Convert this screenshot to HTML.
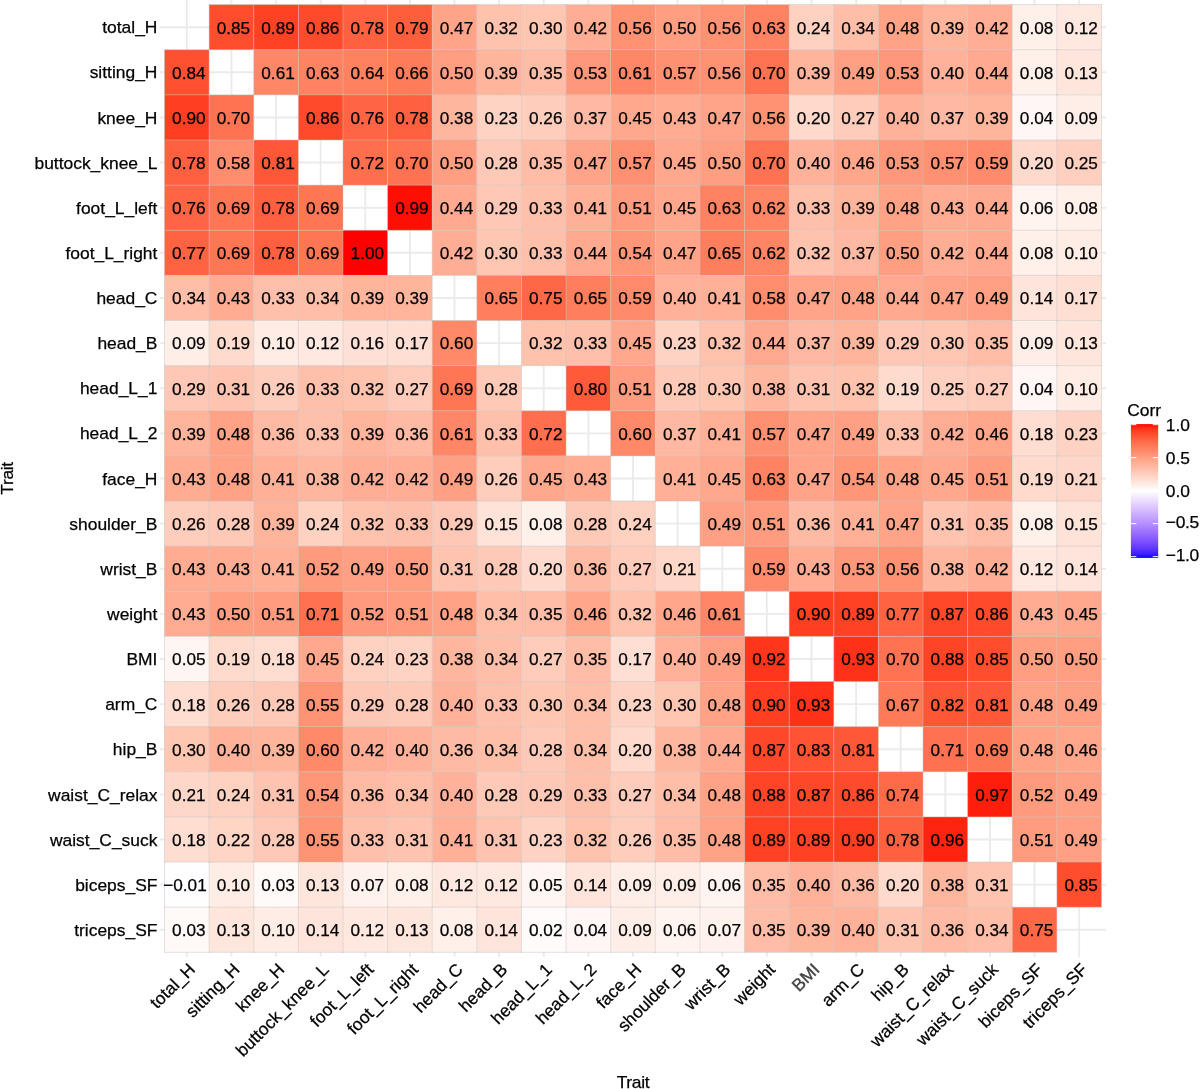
<!DOCTYPE html>
<html><head><meta charset="utf-8"><title>Trait correlation heatmap</title>
<style>
html,body{margin:0;padding:0;background:#fff;}
body{width:1200px;height:1089px;overflow:hidden;position:relative;font-family:"Liberation Sans",sans-serif;color:#000;}
svg{position:absolute;left:0;top:0;will-change:transform;}
text{font-family:"Liberation Sans",sans-serif;stroke:#000;stroke-width:0.25px;}
.c{font-size:17.20px;text-anchor:middle;fill:#000;}
.y{font-size:17.42px;text-anchor:end;fill:#000;}
.x{font-size:17.42px;text-anchor:end;fill:#000;}
.t{font-size:17.42px;fill:#000;}
</style></head><body>
<svg width="1200" height="1089" viewBox="0 0 1200 1089">
<g stroke="#EBEBEB" stroke-width="1.90" fill="none">
<path d="M186.81 0.11V956.81"/><path d="M160.04 27.18H1105.96"/>
<path d="M231.43 0.11V956.81"/><path d="M160.04 72.31H1105.96"/>
<path d="M276.05 0.11V956.81"/><path d="M160.04 117.44H1105.96"/>
<path d="M320.67 0.11V956.81"/><path d="M160.04 162.57H1105.96"/>
<path d="M365.29 0.11V956.81"/><path d="M160.04 207.69H1105.96"/>
<path d="M409.90 0.11V956.81"/><path d="M160.04 252.82H1105.96"/>
<path d="M454.52 0.11V956.81"/><path d="M160.04 297.95H1105.96"/>
<path d="M499.14 0.11V956.81"/><path d="M160.04 343.08H1105.96"/>
<path d="M543.76 0.11V956.81"/><path d="M160.04 388.20H1105.96"/>
<path d="M588.38 0.11V956.81"/><path d="M160.04 433.33H1105.96"/>
<path d="M633.00 0.11V956.81"/><path d="M160.04 478.46H1105.96"/>
<path d="M677.62 0.11V956.81"/><path d="M160.04 523.59H1105.96"/>
<path d="M722.24 0.11V956.81"/><path d="M160.04 568.72H1105.96"/>
<path d="M766.86 0.11V956.81"/><path d="M160.04 613.84H1105.96"/>
<path d="M811.48 0.11V956.81"/><path d="M160.04 658.97H1105.96"/>
<path d="M856.10 0.11V956.81"/><path d="M160.04 704.10H1105.96"/>
<path d="M900.71 0.11V956.81"/><path d="M160.04 749.23H1105.96"/>
<path d="M945.33 0.11V956.81"/><path d="M160.04 794.35H1105.96"/>
<path d="M989.95 0.11V956.81"/><path d="M160.04 839.48H1105.96"/>
<path d="M1034.57 0.11V956.81"/><path d="M160.04 884.61H1105.96"/>
<path d="M1079.19 0.11V956.81"/><path d="M160.04 929.74H1105.96"/>
</g>
<g shape-rendering="auto">
<rect x="209.12" y="4.62" width="44.62" height="45.13" fill="#FF4D2E"/>
<rect x="253.74" y="4.62" width="44.62" height="45.13" fill="#FF4124"/>
<rect x="298.36" y="4.62" width="44.62" height="45.13" fill="#FF4A2C"/>
<rect x="342.98" y="4.62" width="44.62" height="45.13" fill="#FF603F"/>
<rect x="387.60" y="4.62" width="44.62" height="45.13" fill="#FF5E3D"/>
<rect x="432.21" y="4.62" width="44.62" height="45.13" fill="#FFA488"/>
<rect x="476.83" y="4.62" width="44.62" height="45.13" fill="#FFC2AD"/>
<rect x="521.45" y="4.62" width="44.62" height="45.13" fill="#FFC6B2"/>
<rect x="566.07" y="4.62" width="44.62" height="45.13" fill="#FFAE95"/>
<rect x="610.69" y="4.62" width="44.62" height="45.13" fill="#FF9273"/>
<rect x="655.31" y="4.62" width="44.62" height="45.13" fill="#FF9E81"/>
<rect x="699.93" y="4.62" width="44.62" height="45.13" fill="#FF9273"/>
<rect x="744.55" y="4.62" width="44.62" height="45.13" fill="#FF8362"/>
<rect x="789.17" y="4.62" width="44.62" height="45.13" fill="#FFD1C1"/>
<rect x="833.79" y="4.62" width="44.62" height="45.13" fill="#FFBEA8"/>
<rect x="878.40" y="4.62" width="44.62" height="45.13" fill="#FFA286"/>
<rect x="923.02" y="4.62" width="44.62" height="45.13" fill="#FFB49C"/>
<rect x="967.64" y="4.62" width="44.62" height="45.13" fill="#FFAE95"/>
<rect x="1012.26" y="4.62" width="44.62" height="45.13" fill="#FFF0EA"/>
<rect x="1056.88" y="4.62" width="44.62" height="45.13" fill="#FFE8E0"/>
<rect x="164.50" y="49.75" width="44.62" height="45.13" fill="#FF5031"/>
<rect x="253.74" y="49.75" width="44.62" height="45.13" fill="#FF8767"/>
<rect x="298.36" y="49.75" width="44.62" height="45.13" fill="#FF8362"/>
<rect x="342.98" y="49.75" width="44.62" height="45.13" fill="#FF8160"/>
<rect x="387.60" y="49.75" width="44.62" height="45.13" fill="#FF7C5B"/>
<rect x="432.21" y="49.75" width="44.62" height="45.13" fill="#FF9E81"/>
<rect x="476.83" y="49.75" width="44.62" height="45.13" fill="#FFB49C"/>
<rect x="521.45" y="49.75" width="44.62" height="45.13" fill="#FFBCA6"/>
<rect x="566.07" y="49.75" width="44.62" height="45.13" fill="#FF987A"/>
<rect x="610.69" y="49.75" width="44.62" height="45.13" fill="#FF8767"/>
<rect x="655.31" y="49.75" width="44.62" height="45.13" fill="#FF9071"/>
<rect x="699.93" y="49.75" width="44.62" height="45.13" fill="#FF9273"/>
<rect x="744.55" y="49.75" width="44.62" height="45.13" fill="#FF7352"/>
<rect x="789.17" y="49.75" width="44.62" height="45.13" fill="#FFB49C"/>
<rect x="833.79" y="49.75" width="44.62" height="45.13" fill="#FFA084"/>
<rect x="878.40" y="49.75" width="44.62" height="45.13" fill="#FF987A"/>
<rect x="923.02" y="49.75" width="44.62" height="45.13" fill="#FFB299"/>
<rect x="967.64" y="49.75" width="44.62" height="45.13" fill="#FFAA90"/>
<rect x="1012.26" y="49.75" width="44.62" height="45.13" fill="#FFF0EA"/>
<rect x="1056.88" y="49.75" width="44.62" height="45.13" fill="#FFE6DD"/>
<rect x="164.50" y="94.88" width="44.62" height="45.13" fill="#FF3E22"/>
<rect x="209.12" y="94.88" width="44.62" height="45.13" fill="#FF7352"/>
<rect x="298.36" y="94.88" width="44.62" height="45.13" fill="#FF4A2C"/>
<rect x="342.98" y="94.88" width="44.62" height="45.13" fill="#FF6544"/>
<rect x="387.60" y="94.88" width="44.62" height="45.13" fill="#FF603F"/>
<rect x="432.21" y="94.88" width="44.62" height="45.13" fill="#FFB69E"/>
<rect x="476.83" y="94.88" width="44.62" height="45.13" fill="#FFD3C4"/>
<rect x="521.45" y="94.88" width="44.62" height="45.13" fill="#FFCDBC"/>
<rect x="566.07" y="94.88" width="44.62" height="45.13" fill="#FFB8A1"/>
<rect x="610.69" y="94.88" width="44.62" height="45.13" fill="#FFA88D"/>
<rect x="655.31" y="94.88" width="44.62" height="45.13" fill="#FFAC92"/>
<rect x="699.93" y="94.88" width="44.62" height="45.13" fill="#FFA488"/>
<rect x="744.55" y="94.88" width="44.62" height="45.13" fill="#FF9273"/>
<rect x="789.17" y="94.88" width="44.62" height="45.13" fill="#FFD9CB"/>
<rect x="833.79" y="94.88" width="44.62" height="45.13" fill="#FFCBBA"/>
<rect x="878.40" y="94.88" width="44.62" height="45.13" fill="#FFB299"/>
<rect x="923.02" y="94.88" width="44.62" height="45.13" fill="#FFB8A1"/>
<rect x="967.64" y="94.88" width="44.62" height="45.13" fill="#FFB49C"/>
<rect x="1012.26" y="94.88" width="44.62" height="45.13" fill="#FFF7F5"/>
<rect x="1056.88" y="94.88" width="44.62" height="45.13" fill="#FFEEE8"/>
<rect x="164.50" y="140.00" width="44.62" height="45.13" fill="#FF603F"/>
<rect x="209.12" y="140.00" width="44.62" height="45.13" fill="#FF8D6E"/>
<rect x="253.74" y="140.00" width="44.62" height="45.13" fill="#FF5838"/>
<rect x="342.98" y="140.00" width="44.62" height="45.13" fill="#FF6F4D"/>
<rect x="387.60" y="140.00" width="44.62" height="45.13" fill="#FF7352"/>
<rect x="432.21" y="140.00" width="44.62" height="45.13" fill="#FF9E81"/>
<rect x="476.83" y="140.00" width="44.62" height="45.13" fill="#FFC9B7"/>
<rect x="521.45" y="140.00" width="44.62" height="45.13" fill="#FFBCA6"/>
<rect x="566.07" y="140.00" width="44.62" height="45.13" fill="#FFA488"/>
<rect x="610.69" y="140.00" width="44.62" height="45.13" fill="#FF9071"/>
<rect x="655.31" y="140.00" width="44.62" height="45.13" fill="#FFA88D"/>
<rect x="699.93" y="140.00" width="44.62" height="45.13" fill="#FF9E81"/>
<rect x="744.55" y="140.00" width="44.62" height="45.13" fill="#FF7352"/>
<rect x="789.17" y="140.00" width="44.62" height="45.13" fill="#FFB299"/>
<rect x="833.79" y="140.00" width="44.62" height="45.13" fill="#FFA68B"/>
<rect x="878.40" y="140.00" width="44.62" height="45.13" fill="#FF987A"/>
<rect x="923.02" y="140.00" width="44.62" height="45.13" fill="#FF9071"/>
<rect x="967.64" y="140.00" width="44.62" height="45.13" fill="#FF8B6C"/>
<rect x="1012.26" y="140.00" width="44.62" height="45.13" fill="#FFD9CB"/>
<rect x="1056.88" y="140.00" width="44.62" height="45.13" fill="#FFCFBF"/>
<rect x="164.50" y="185.13" width="44.62" height="45.13" fill="#FF6544"/>
<rect x="209.12" y="185.13" width="44.62" height="45.13" fill="#FF7654"/>
<rect x="253.74" y="185.13" width="44.62" height="45.13" fill="#FF603F"/>
<rect x="298.36" y="185.13" width="44.62" height="45.13" fill="#FF7654"/>
<rect x="387.60" y="185.13" width="44.62" height="45.13" fill="#FF0E04"/>
<rect x="432.21" y="185.13" width="44.62" height="45.13" fill="#FFAA90"/>
<rect x="476.83" y="185.13" width="44.62" height="45.13" fill="#FFC7B5"/>
<rect x="521.45" y="185.13" width="44.62" height="45.13" fill="#FFC0AB"/>
<rect x="566.07" y="185.13" width="44.62" height="45.13" fill="#FFB097"/>
<rect x="610.69" y="185.13" width="44.62" height="45.13" fill="#FF9C7F"/>
<rect x="655.31" y="185.13" width="44.62" height="45.13" fill="#FFA88D"/>
<rect x="699.93" y="185.13" width="44.62" height="45.13" fill="#FF8362"/>
<rect x="744.55" y="185.13" width="44.62" height="45.13" fill="#FF8565"/>
<rect x="789.17" y="185.13" width="44.62" height="45.13" fill="#FFC0AB"/>
<rect x="833.79" y="185.13" width="44.62" height="45.13" fill="#FFB49C"/>
<rect x="878.40" y="185.13" width="44.62" height="45.13" fill="#FFA286"/>
<rect x="923.02" y="185.13" width="44.62" height="45.13" fill="#FFAC92"/>
<rect x="967.64" y="185.13" width="44.62" height="45.13" fill="#FFAA90"/>
<rect x="1012.26" y="185.13" width="44.62" height="45.13" fill="#FFF4EF"/>
<rect x="1056.88" y="185.13" width="44.62" height="45.13" fill="#FFF0EA"/>
<rect x="164.50" y="230.26" width="44.62" height="45.13" fill="#FF6341"/>
<rect x="209.12" y="230.26" width="44.62" height="45.13" fill="#FF7654"/>
<rect x="253.74" y="230.26" width="44.62" height="45.13" fill="#FF603F"/>
<rect x="298.36" y="230.26" width="44.62" height="45.13" fill="#FF7654"/>
<rect x="342.98" y="230.26" width="44.62" height="45.13" fill="#FF0000"/>
<rect x="432.21" y="230.26" width="44.62" height="45.13" fill="#FFAE95"/>
<rect x="476.83" y="230.26" width="44.62" height="45.13" fill="#FFC6B2"/>
<rect x="521.45" y="230.26" width="44.62" height="45.13" fill="#FFC0AB"/>
<rect x="566.07" y="230.26" width="44.62" height="45.13" fill="#FFAA90"/>
<rect x="610.69" y="230.26" width="44.62" height="45.13" fill="#FF9678"/>
<rect x="655.31" y="230.26" width="44.62" height="45.13" fill="#FFA488"/>
<rect x="699.93" y="230.26" width="44.62" height="45.13" fill="#FF7E5E"/>
<rect x="744.55" y="230.26" width="44.62" height="45.13" fill="#FF8565"/>
<rect x="789.17" y="230.26" width="44.62" height="45.13" fill="#FFC2AD"/>
<rect x="833.79" y="230.26" width="44.62" height="45.13" fill="#FFB8A1"/>
<rect x="878.40" y="230.26" width="44.62" height="45.13" fill="#FF9E81"/>
<rect x="923.02" y="230.26" width="44.62" height="45.13" fill="#FFAE95"/>
<rect x="967.64" y="230.26" width="44.62" height="45.13" fill="#FFAA90"/>
<rect x="1012.26" y="230.26" width="44.62" height="45.13" fill="#FFF0EA"/>
<rect x="1056.88" y="230.26" width="44.62" height="45.13" fill="#FFECE5"/>
<rect x="164.50" y="275.39" width="44.62" height="45.13" fill="#FFBEA8"/>
<rect x="209.12" y="275.39" width="44.62" height="45.13" fill="#FFAC92"/>
<rect x="253.74" y="275.39" width="44.62" height="45.13" fill="#FFC0AB"/>
<rect x="298.36" y="275.39" width="44.62" height="45.13" fill="#FFBEA8"/>
<rect x="342.98" y="275.39" width="44.62" height="45.13" fill="#FFB49C"/>
<rect x="387.60" y="275.39" width="44.62" height="45.13" fill="#FFB49C"/>
<rect x="476.83" y="275.39" width="44.62" height="45.13" fill="#FF7E5E"/>
<rect x="521.45" y="275.39" width="44.62" height="45.13" fill="#FF6846"/>
<rect x="566.07" y="275.39" width="44.62" height="45.13" fill="#FF7E5E"/>
<rect x="610.69" y="275.39" width="44.62" height="45.13" fill="#FF8B6C"/>
<rect x="655.31" y="275.39" width="44.62" height="45.13" fill="#FFB299"/>
<rect x="699.93" y="275.39" width="44.62" height="45.13" fill="#FFB097"/>
<rect x="744.55" y="275.39" width="44.62" height="45.13" fill="#FF8D6E"/>
<rect x="789.17" y="275.39" width="44.62" height="45.13" fill="#FFA488"/>
<rect x="833.79" y="275.39" width="44.62" height="45.13" fill="#FFA286"/>
<rect x="878.40" y="275.39" width="44.62" height="45.13" fill="#FFAA90"/>
<rect x="923.02" y="275.39" width="44.62" height="45.13" fill="#FFA488"/>
<rect x="967.64" y="275.39" width="44.62" height="45.13" fill="#FFA084"/>
<rect x="1012.26" y="275.39" width="44.62" height="45.13" fill="#FFE4DB"/>
<rect x="1056.88" y="275.39" width="44.62" height="45.13" fill="#FFDFD3"/>
<rect x="164.50" y="320.51" width="44.62" height="45.13" fill="#FFEEE8"/>
<rect x="209.12" y="320.51" width="44.62" height="45.13" fill="#FFDBCE"/>
<rect x="253.74" y="320.51" width="44.62" height="45.13" fill="#FFECE5"/>
<rect x="298.36" y="320.51" width="44.62" height="45.13" fill="#FFE8E0"/>
<rect x="342.98" y="320.51" width="44.62" height="45.13" fill="#FFE0D6"/>
<rect x="387.60" y="320.51" width="44.62" height="45.13" fill="#FFDFD3"/>
<rect x="432.21" y="320.51" width="44.62" height="45.13" fill="#FF8969"/>
<rect x="521.45" y="320.51" width="44.62" height="45.13" fill="#FFC2AD"/>
<rect x="566.07" y="320.51" width="44.62" height="45.13" fill="#FFC0AB"/>
<rect x="610.69" y="320.51" width="44.62" height="45.13" fill="#FFA88D"/>
<rect x="655.31" y="320.51" width="44.62" height="45.13" fill="#FFD3C4"/>
<rect x="699.93" y="320.51" width="44.62" height="45.13" fill="#FFC2AD"/>
<rect x="744.55" y="320.51" width="44.62" height="45.13" fill="#FFAA90"/>
<rect x="789.17" y="320.51" width="44.62" height="45.13" fill="#FFB8A1"/>
<rect x="833.79" y="320.51" width="44.62" height="45.13" fill="#FFB49C"/>
<rect x="878.40" y="320.51" width="44.62" height="45.13" fill="#FFC7B5"/>
<rect x="923.02" y="320.51" width="44.62" height="45.13" fill="#FFC6B2"/>
<rect x="967.64" y="320.51" width="44.62" height="45.13" fill="#FFBCA6"/>
<rect x="1012.26" y="320.51" width="44.62" height="45.13" fill="#FFEEE8"/>
<rect x="1056.88" y="320.51" width="44.62" height="45.13" fill="#FFE6DD"/>
<rect x="164.50" y="365.64" width="44.62" height="45.13" fill="#FFC7B5"/>
<rect x="209.12" y="365.64" width="44.62" height="45.13" fill="#FFC4B0"/>
<rect x="253.74" y="365.64" width="44.62" height="45.13" fill="#FFCDBC"/>
<rect x="298.36" y="365.64" width="44.62" height="45.13" fill="#FFC0AB"/>
<rect x="342.98" y="365.64" width="44.62" height="45.13" fill="#FFC2AD"/>
<rect x="387.60" y="365.64" width="44.62" height="45.13" fill="#FFCBBA"/>
<rect x="432.21" y="365.64" width="44.62" height="45.13" fill="#FF7654"/>
<rect x="476.83" y="365.64" width="44.62" height="45.13" fill="#FFC9B7"/>
<rect x="566.07" y="365.64" width="44.62" height="45.13" fill="#FF5B3A"/>
<rect x="610.69" y="365.64" width="44.62" height="45.13" fill="#FF9C7F"/>
<rect x="655.31" y="365.64" width="44.62" height="45.13" fill="#FFC9B7"/>
<rect x="699.93" y="365.64" width="44.62" height="45.13" fill="#FFC6B2"/>
<rect x="744.55" y="365.64" width="44.62" height="45.13" fill="#FFB69E"/>
<rect x="789.17" y="365.64" width="44.62" height="45.13" fill="#FFC4B0"/>
<rect x="833.79" y="365.64" width="44.62" height="45.13" fill="#FFC2AD"/>
<rect x="878.40" y="365.64" width="44.62" height="45.13" fill="#FFDBCE"/>
<rect x="923.02" y="365.64" width="44.62" height="45.13" fill="#FFCFBF"/>
<rect x="967.64" y="365.64" width="44.62" height="45.13" fill="#FFCBBA"/>
<rect x="1012.26" y="365.64" width="44.62" height="45.13" fill="#FFF7F5"/>
<rect x="1056.88" y="365.64" width="44.62" height="45.13" fill="#FFECE5"/>
<rect x="164.50" y="410.77" width="44.62" height="45.13" fill="#FFB49C"/>
<rect x="209.12" y="410.77" width="44.62" height="45.13" fill="#FFA286"/>
<rect x="253.74" y="410.77" width="44.62" height="45.13" fill="#FFBAA3"/>
<rect x="298.36" y="410.77" width="44.62" height="45.13" fill="#FFC0AB"/>
<rect x="342.98" y="410.77" width="44.62" height="45.13" fill="#FFB49C"/>
<rect x="387.60" y="410.77" width="44.62" height="45.13" fill="#FFBAA3"/>
<rect x="432.21" y="410.77" width="44.62" height="45.13" fill="#FF8767"/>
<rect x="476.83" y="410.77" width="44.62" height="45.13" fill="#FFC0AB"/>
<rect x="521.45" y="410.77" width="44.62" height="45.13" fill="#FF6F4D"/>
<rect x="610.69" y="410.77" width="44.62" height="45.13" fill="#FF8969"/>
<rect x="655.31" y="410.77" width="44.62" height="45.13" fill="#FFB8A1"/>
<rect x="699.93" y="410.77" width="44.62" height="45.13" fill="#FFB097"/>
<rect x="744.55" y="410.77" width="44.62" height="45.13" fill="#FF9071"/>
<rect x="789.17" y="410.77" width="44.62" height="45.13" fill="#FFA488"/>
<rect x="833.79" y="410.77" width="44.62" height="45.13" fill="#FFA084"/>
<rect x="878.40" y="410.77" width="44.62" height="45.13" fill="#FFC0AB"/>
<rect x="923.02" y="410.77" width="44.62" height="45.13" fill="#FFAE95"/>
<rect x="967.64" y="410.77" width="44.62" height="45.13" fill="#FFA68B"/>
<rect x="1012.26" y="410.77" width="44.62" height="45.13" fill="#FFDDD0"/>
<rect x="1056.88" y="410.77" width="44.62" height="45.13" fill="#FFD3C4"/>
<rect x="164.50" y="455.90" width="44.62" height="45.13" fill="#FFAC92"/>
<rect x="209.12" y="455.90" width="44.62" height="45.13" fill="#FFA286"/>
<rect x="253.74" y="455.90" width="44.62" height="45.13" fill="#FFB097"/>
<rect x="298.36" y="455.90" width="44.62" height="45.13" fill="#FFB69E"/>
<rect x="342.98" y="455.90" width="44.62" height="45.13" fill="#FFAE95"/>
<rect x="387.60" y="455.90" width="44.62" height="45.13" fill="#FFAE95"/>
<rect x="432.21" y="455.90" width="44.62" height="45.13" fill="#FFA084"/>
<rect x="476.83" y="455.90" width="44.62" height="45.13" fill="#FFCDBC"/>
<rect x="521.45" y="455.90" width="44.62" height="45.13" fill="#FFA88D"/>
<rect x="566.07" y="455.90" width="44.62" height="45.13" fill="#FFAC92"/>
<rect x="655.31" y="455.90" width="44.62" height="45.13" fill="#FFB097"/>
<rect x="699.93" y="455.90" width="44.62" height="45.13" fill="#FFA88D"/>
<rect x="744.55" y="455.90" width="44.62" height="45.13" fill="#FF8362"/>
<rect x="789.17" y="455.90" width="44.62" height="45.13" fill="#FFA488"/>
<rect x="833.79" y="455.90" width="44.62" height="45.13" fill="#FF9678"/>
<rect x="878.40" y="455.90" width="44.62" height="45.13" fill="#FFA286"/>
<rect x="923.02" y="455.90" width="44.62" height="45.13" fill="#FFA88D"/>
<rect x="967.64" y="455.90" width="44.62" height="45.13" fill="#FF9C7F"/>
<rect x="1012.26" y="455.90" width="44.62" height="45.13" fill="#FFDBCE"/>
<rect x="1056.88" y="455.90" width="44.62" height="45.13" fill="#FFD7C9"/>
<rect x="164.50" y="501.02" width="44.62" height="45.13" fill="#FFCDBC"/>
<rect x="209.12" y="501.02" width="44.62" height="45.13" fill="#FFC9B7"/>
<rect x="253.74" y="501.02" width="44.62" height="45.13" fill="#FFB49C"/>
<rect x="298.36" y="501.02" width="44.62" height="45.13" fill="#FFD1C1"/>
<rect x="342.98" y="501.02" width="44.62" height="45.13" fill="#FFC2AD"/>
<rect x="387.60" y="501.02" width="44.62" height="45.13" fill="#FFC0AB"/>
<rect x="432.21" y="501.02" width="44.62" height="45.13" fill="#FFC7B5"/>
<rect x="476.83" y="501.02" width="44.62" height="45.13" fill="#FFE2D8"/>
<rect x="521.45" y="501.02" width="44.62" height="45.13" fill="#FFF0EA"/>
<rect x="566.07" y="501.02" width="44.62" height="45.13" fill="#FFC9B7"/>
<rect x="610.69" y="501.02" width="44.62" height="45.13" fill="#FFD1C1"/>
<rect x="699.93" y="501.02" width="44.62" height="45.13" fill="#FFA084"/>
<rect x="744.55" y="501.02" width="44.62" height="45.13" fill="#FF9C7F"/>
<rect x="789.17" y="501.02" width="44.62" height="45.13" fill="#FFBAA3"/>
<rect x="833.79" y="501.02" width="44.62" height="45.13" fill="#FFB097"/>
<rect x="878.40" y="501.02" width="44.62" height="45.13" fill="#FFA488"/>
<rect x="923.02" y="501.02" width="44.62" height="45.13" fill="#FFC4B0"/>
<rect x="967.64" y="501.02" width="44.62" height="45.13" fill="#FFBCA6"/>
<rect x="1012.26" y="501.02" width="44.62" height="45.13" fill="#FFF0EA"/>
<rect x="1056.88" y="501.02" width="44.62" height="45.13" fill="#FFE2D8"/>
<rect x="164.50" y="546.15" width="44.62" height="45.13" fill="#FFAC92"/>
<rect x="209.12" y="546.15" width="44.62" height="45.13" fill="#FFAC92"/>
<rect x="253.74" y="546.15" width="44.62" height="45.13" fill="#FFB097"/>
<rect x="298.36" y="546.15" width="44.62" height="45.13" fill="#FF9A7C"/>
<rect x="342.98" y="546.15" width="44.62" height="45.13" fill="#FFA084"/>
<rect x="387.60" y="546.15" width="44.62" height="45.13" fill="#FF9E81"/>
<rect x="432.21" y="546.15" width="44.62" height="45.13" fill="#FFC4B0"/>
<rect x="476.83" y="546.15" width="44.62" height="45.13" fill="#FFC9B7"/>
<rect x="521.45" y="546.15" width="44.62" height="45.13" fill="#FFD9CB"/>
<rect x="566.07" y="546.15" width="44.62" height="45.13" fill="#FFBAA3"/>
<rect x="610.69" y="546.15" width="44.62" height="45.13" fill="#FFCBBA"/>
<rect x="655.31" y="546.15" width="44.62" height="45.13" fill="#FFD7C9"/>
<rect x="744.55" y="546.15" width="44.62" height="45.13" fill="#FF8B6C"/>
<rect x="789.17" y="546.15" width="44.62" height="45.13" fill="#FFAC92"/>
<rect x="833.79" y="546.15" width="44.62" height="45.13" fill="#FF987A"/>
<rect x="878.40" y="546.15" width="44.62" height="45.13" fill="#FF9273"/>
<rect x="923.02" y="546.15" width="44.62" height="45.13" fill="#FFB69E"/>
<rect x="967.64" y="546.15" width="44.62" height="45.13" fill="#FFAE95"/>
<rect x="1012.26" y="546.15" width="44.62" height="45.13" fill="#FFE8E0"/>
<rect x="1056.88" y="546.15" width="44.62" height="45.13" fill="#FFE4DB"/>
<rect x="164.50" y="591.28" width="44.62" height="45.13" fill="#FFAC92"/>
<rect x="209.12" y="591.28" width="44.62" height="45.13" fill="#FF9E81"/>
<rect x="253.74" y="591.28" width="44.62" height="45.13" fill="#FF9C7F"/>
<rect x="298.36" y="591.28" width="44.62" height="45.13" fill="#FF7150"/>
<rect x="342.98" y="591.28" width="44.62" height="45.13" fill="#FF9A7C"/>
<rect x="387.60" y="591.28" width="44.62" height="45.13" fill="#FF9C7F"/>
<rect x="432.21" y="591.28" width="44.62" height="45.13" fill="#FFA286"/>
<rect x="476.83" y="591.28" width="44.62" height="45.13" fill="#FFBEA8"/>
<rect x="521.45" y="591.28" width="44.62" height="45.13" fill="#FFBCA6"/>
<rect x="566.07" y="591.28" width="44.62" height="45.13" fill="#FFA68B"/>
<rect x="610.69" y="591.28" width="44.62" height="45.13" fill="#FFC2AD"/>
<rect x="655.31" y="591.28" width="44.62" height="45.13" fill="#FFA68B"/>
<rect x="699.93" y="591.28" width="44.62" height="45.13" fill="#FF8767"/>
<rect x="789.17" y="591.28" width="44.62" height="45.13" fill="#FF3E22"/>
<rect x="833.79" y="591.28" width="44.62" height="45.13" fill="#FF4124"/>
<rect x="878.40" y="591.28" width="44.62" height="45.13" fill="#FF6341"/>
<rect x="923.02" y="591.28" width="44.62" height="45.13" fill="#FF4729"/>
<rect x="967.64" y="591.28" width="44.62" height="45.13" fill="#FF4A2C"/>
<rect x="1012.26" y="591.28" width="44.62" height="45.13" fill="#FFAC92"/>
<rect x="1056.88" y="591.28" width="44.62" height="45.13" fill="#FFA88D"/>
<rect x="164.50" y="636.41" width="44.62" height="45.13" fill="#FFF5F2"/>
<rect x="209.12" y="636.41" width="44.62" height="45.13" fill="#FFDBCE"/>
<rect x="253.74" y="636.41" width="44.62" height="45.13" fill="#FFDDD0"/>
<rect x="298.36" y="636.41" width="44.62" height="45.13" fill="#FFA88D"/>
<rect x="342.98" y="636.41" width="44.62" height="45.13" fill="#FFD1C1"/>
<rect x="387.60" y="636.41" width="44.62" height="45.13" fill="#FFD3C4"/>
<rect x="432.21" y="636.41" width="44.62" height="45.13" fill="#FFB69E"/>
<rect x="476.83" y="636.41" width="44.62" height="45.13" fill="#FFBEA8"/>
<rect x="521.45" y="636.41" width="44.62" height="45.13" fill="#FFCBBA"/>
<rect x="566.07" y="636.41" width="44.62" height="45.13" fill="#FFBCA6"/>
<rect x="610.69" y="636.41" width="44.62" height="45.13" fill="#FFDFD3"/>
<rect x="655.31" y="636.41" width="44.62" height="45.13" fill="#FFB299"/>
<rect x="699.93" y="636.41" width="44.62" height="45.13" fill="#FFA084"/>
<rect x="744.55" y="636.41" width="44.62" height="45.13" fill="#FF361C"/>
<rect x="833.79" y="636.41" width="44.62" height="45.13" fill="#FF3219"/>
<rect x="878.40" y="636.41" width="44.62" height="45.13" fill="#FF7352"/>
<rect x="923.02" y="636.41" width="44.62" height="45.13" fill="#FF4427"/>
<rect x="967.64" y="636.41" width="44.62" height="45.13" fill="#FF4D2E"/>
<rect x="1012.26" y="636.41" width="44.62" height="45.13" fill="#FF9E81"/>
<rect x="1056.88" y="636.41" width="44.62" height="45.13" fill="#FF9E81"/>
<rect x="164.50" y="681.53" width="44.62" height="45.13" fill="#FFDDD0"/>
<rect x="209.12" y="681.53" width="44.62" height="45.13" fill="#FFCDBC"/>
<rect x="253.74" y="681.53" width="44.62" height="45.13" fill="#FFC9B7"/>
<rect x="298.36" y="681.53" width="44.62" height="45.13" fill="#FF9475"/>
<rect x="342.98" y="681.53" width="44.62" height="45.13" fill="#FFC7B5"/>
<rect x="387.60" y="681.53" width="44.62" height="45.13" fill="#FFC9B7"/>
<rect x="432.21" y="681.53" width="44.62" height="45.13" fill="#FFB299"/>
<rect x="476.83" y="681.53" width="44.62" height="45.13" fill="#FFC0AB"/>
<rect x="521.45" y="681.53" width="44.62" height="45.13" fill="#FFC6B2"/>
<rect x="566.07" y="681.53" width="44.62" height="45.13" fill="#FFBEA8"/>
<rect x="610.69" y="681.53" width="44.62" height="45.13" fill="#FFD3C4"/>
<rect x="655.31" y="681.53" width="44.62" height="45.13" fill="#FFC6B2"/>
<rect x="699.93" y="681.53" width="44.62" height="45.13" fill="#FFA286"/>
<rect x="744.55" y="681.53" width="44.62" height="45.13" fill="#FF3E22"/>
<rect x="789.17" y="681.53" width="44.62" height="45.13" fill="#FF3219"/>
<rect x="878.40" y="681.53" width="44.62" height="45.13" fill="#FF7A59"/>
<rect x="923.02" y="681.53" width="44.62" height="45.13" fill="#FF5636"/>
<rect x="967.64" y="681.53" width="44.62" height="45.13" fill="#FF5838"/>
<rect x="1012.26" y="681.53" width="44.62" height="45.13" fill="#FFA286"/>
<rect x="1056.88" y="681.53" width="44.62" height="45.13" fill="#FFA084"/>
<rect x="164.50" y="726.66" width="44.62" height="45.13" fill="#FFC6B2"/>
<rect x="209.12" y="726.66" width="44.62" height="45.13" fill="#FFB299"/>
<rect x="253.74" y="726.66" width="44.62" height="45.13" fill="#FFB49C"/>
<rect x="298.36" y="726.66" width="44.62" height="45.13" fill="#FF8969"/>
<rect x="342.98" y="726.66" width="44.62" height="45.13" fill="#FFAE95"/>
<rect x="387.60" y="726.66" width="44.62" height="45.13" fill="#FFB299"/>
<rect x="432.21" y="726.66" width="44.62" height="45.13" fill="#FFBAA3"/>
<rect x="476.83" y="726.66" width="44.62" height="45.13" fill="#FFBEA8"/>
<rect x="521.45" y="726.66" width="44.62" height="45.13" fill="#FFC9B7"/>
<rect x="566.07" y="726.66" width="44.62" height="45.13" fill="#FFBEA8"/>
<rect x="610.69" y="726.66" width="44.62" height="45.13" fill="#FFD9CB"/>
<rect x="655.31" y="726.66" width="44.62" height="45.13" fill="#FFB69E"/>
<rect x="699.93" y="726.66" width="44.62" height="45.13" fill="#FFAA90"/>
<rect x="744.55" y="726.66" width="44.62" height="45.13" fill="#FF4729"/>
<rect x="789.17" y="726.66" width="44.62" height="45.13" fill="#FF5333"/>
<rect x="833.79" y="726.66" width="44.62" height="45.13" fill="#FF5838"/>
<rect x="923.02" y="726.66" width="44.62" height="45.13" fill="#FF7150"/>
<rect x="967.64" y="726.66" width="44.62" height="45.13" fill="#FF7654"/>
<rect x="1012.26" y="726.66" width="44.62" height="45.13" fill="#FFA286"/>
<rect x="1056.88" y="726.66" width="44.62" height="45.13" fill="#FFA68B"/>
<rect x="164.50" y="771.79" width="44.62" height="45.13" fill="#FFD7C9"/>
<rect x="209.12" y="771.79" width="44.62" height="45.13" fill="#FFD1C1"/>
<rect x="253.74" y="771.79" width="44.62" height="45.13" fill="#FFC4B0"/>
<rect x="298.36" y="771.79" width="44.62" height="45.13" fill="#FF9678"/>
<rect x="342.98" y="771.79" width="44.62" height="45.13" fill="#FFBAA3"/>
<rect x="387.60" y="771.79" width="44.62" height="45.13" fill="#FFBEA8"/>
<rect x="432.21" y="771.79" width="44.62" height="45.13" fill="#FFB299"/>
<rect x="476.83" y="771.79" width="44.62" height="45.13" fill="#FFC9B7"/>
<rect x="521.45" y="771.79" width="44.62" height="45.13" fill="#FFC7B5"/>
<rect x="566.07" y="771.79" width="44.62" height="45.13" fill="#FFC0AB"/>
<rect x="610.69" y="771.79" width="44.62" height="45.13" fill="#FFCBBA"/>
<rect x="655.31" y="771.79" width="44.62" height="45.13" fill="#FFBEA8"/>
<rect x="699.93" y="771.79" width="44.62" height="45.13" fill="#FFA286"/>
<rect x="744.55" y="771.79" width="44.62" height="45.13" fill="#FF4427"/>
<rect x="789.17" y="771.79" width="44.62" height="45.13" fill="#FF4729"/>
<rect x="833.79" y="771.79" width="44.62" height="45.13" fill="#FF4A2C"/>
<rect x="878.40" y="771.79" width="44.62" height="45.13" fill="#FF6A49"/>
<rect x="967.64" y="771.79" width="44.62" height="45.13" fill="#FF1E0C"/>
<rect x="1012.26" y="771.79" width="44.62" height="45.13" fill="#FF9A7C"/>
<rect x="1056.88" y="771.79" width="44.62" height="45.13" fill="#FFA084"/>
<rect x="164.50" y="816.92" width="44.62" height="45.13" fill="#FFDDD0"/>
<rect x="209.12" y="816.92" width="44.62" height="45.13" fill="#FFD5C6"/>
<rect x="253.74" y="816.92" width="44.62" height="45.13" fill="#FFC9B7"/>
<rect x="298.36" y="816.92" width="44.62" height="45.13" fill="#FF9475"/>
<rect x="342.98" y="816.92" width="44.62" height="45.13" fill="#FFC0AB"/>
<rect x="387.60" y="816.92" width="44.62" height="45.13" fill="#FFC4B0"/>
<rect x="432.21" y="816.92" width="44.62" height="45.13" fill="#FFB097"/>
<rect x="476.83" y="816.92" width="44.62" height="45.13" fill="#FFC4B0"/>
<rect x="521.45" y="816.92" width="44.62" height="45.13" fill="#FFD3C4"/>
<rect x="566.07" y="816.92" width="44.62" height="45.13" fill="#FFC2AD"/>
<rect x="610.69" y="816.92" width="44.62" height="45.13" fill="#FFCDBC"/>
<rect x="655.31" y="816.92" width="44.62" height="45.13" fill="#FFBCA6"/>
<rect x="699.93" y="816.92" width="44.62" height="45.13" fill="#FFA286"/>
<rect x="744.55" y="816.92" width="44.62" height="45.13" fill="#FF4124"/>
<rect x="789.17" y="816.92" width="44.62" height="45.13" fill="#FF4124"/>
<rect x="833.79" y="816.92" width="44.62" height="45.13" fill="#FF3E22"/>
<rect x="878.40" y="816.92" width="44.62" height="45.13" fill="#FF603F"/>
<rect x="923.02" y="816.92" width="44.62" height="45.13" fill="#FF2410"/>
<rect x="1012.26" y="816.92" width="44.62" height="45.13" fill="#FF9C7F"/>
<rect x="1056.88" y="816.92" width="44.62" height="45.13" fill="#FFA084"/>
<rect x="164.50" y="862.04" width="44.62" height="45.13" fill="#FEFDFF"/>
<rect x="209.12" y="862.04" width="44.62" height="45.13" fill="#FFECE5"/>
<rect x="253.74" y="862.04" width="44.62" height="45.13" fill="#FFF9F7"/>
<rect x="298.36" y="862.04" width="44.62" height="45.13" fill="#FFE6DD"/>
<rect x="342.98" y="862.04" width="44.62" height="45.13" fill="#FFF2ED"/>
<rect x="387.60" y="862.04" width="44.62" height="45.13" fill="#FFF0EA"/>
<rect x="432.21" y="862.04" width="44.62" height="45.13" fill="#FFE8E0"/>
<rect x="476.83" y="862.04" width="44.62" height="45.13" fill="#FFE8E0"/>
<rect x="521.45" y="862.04" width="44.62" height="45.13" fill="#FFF5F2"/>
<rect x="566.07" y="862.04" width="44.62" height="45.13" fill="#FFE4DB"/>
<rect x="610.69" y="862.04" width="44.62" height="45.13" fill="#FFEEE8"/>
<rect x="655.31" y="862.04" width="44.62" height="45.13" fill="#FFEEE8"/>
<rect x="699.93" y="862.04" width="44.62" height="45.13" fill="#FFF4EF"/>
<rect x="744.55" y="862.04" width="44.62" height="45.13" fill="#FFBCA6"/>
<rect x="789.17" y="862.04" width="44.62" height="45.13" fill="#FFB299"/>
<rect x="833.79" y="862.04" width="44.62" height="45.13" fill="#FFBAA3"/>
<rect x="878.40" y="862.04" width="44.62" height="45.13" fill="#FFD9CB"/>
<rect x="923.02" y="862.04" width="44.62" height="45.13" fill="#FFB69E"/>
<rect x="967.64" y="862.04" width="44.62" height="45.13" fill="#FFC4B0"/>
<rect x="1056.88" y="862.04" width="44.62" height="45.13" fill="#FF4D2E"/>
<rect x="164.50" y="907.17" width="44.62" height="45.13" fill="#FFF9F7"/>
<rect x="209.12" y="907.17" width="44.62" height="45.13" fill="#FFE6DD"/>
<rect x="253.74" y="907.17" width="44.62" height="45.13" fill="#FFECE5"/>
<rect x="298.36" y="907.17" width="44.62" height="45.13" fill="#FFE4DB"/>
<rect x="342.98" y="907.17" width="44.62" height="45.13" fill="#FFE8E0"/>
<rect x="387.60" y="907.17" width="44.62" height="45.13" fill="#FFE6DD"/>
<rect x="432.21" y="907.17" width="44.62" height="45.13" fill="#FFF0EA"/>
<rect x="476.83" y="907.17" width="44.62" height="45.13" fill="#FFE4DB"/>
<rect x="521.45" y="907.17" width="44.62" height="45.13" fill="#FFFBFA"/>
<rect x="566.07" y="907.17" width="44.62" height="45.13" fill="#FFF7F5"/>
<rect x="610.69" y="907.17" width="44.62" height="45.13" fill="#FFEEE8"/>
<rect x="655.31" y="907.17" width="44.62" height="45.13" fill="#FFF4EF"/>
<rect x="699.93" y="907.17" width="44.62" height="45.13" fill="#FFF2ED"/>
<rect x="744.55" y="907.17" width="44.62" height="45.13" fill="#FFBCA6"/>
<rect x="789.17" y="907.17" width="44.62" height="45.13" fill="#FFB49C"/>
<rect x="833.79" y="907.17" width="44.62" height="45.13" fill="#FFB299"/>
<rect x="878.40" y="907.17" width="44.62" height="45.13" fill="#FFC4B0"/>
<rect x="923.02" y="907.17" width="44.62" height="45.13" fill="#FFBAA3"/>
<rect x="967.64" y="907.17" width="44.62" height="45.13" fill="#FFBEA8"/>
<rect x="1012.26" y="907.17" width="44.62" height="45.13" fill="#FF6846"/>
</g>
<path d="M209.12 4.62h44.62M253.74 4.62h44.62M298.36 4.62h44.62M342.98 4.62h44.62M387.60 4.62h44.62M432.21 4.62h44.62M476.83 4.62h44.62M521.45 4.62h44.62M566.07 4.62h44.62M610.69 4.62h44.62M655.31 4.62h44.62M699.93 4.62h44.62M744.55 4.62h44.62M789.17 4.62h44.62M833.79 4.62h44.62M878.40 4.62h44.62M923.02 4.62h44.62M967.64 4.62h44.62M1012.26 4.62h44.62M1056.88 4.62h44.62M164.50 49.75h44.62M209.12 49.75h44.62M253.74 49.75h44.62M298.36 49.75h44.62M342.98 49.75h44.62M387.60 49.75h44.62M432.21 49.75h44.62M476.83 49.75h44.62M521.45 49.75h44.62M566.07 49.75h44.62M610.69 49.75h44.62M655.31 49.75h44.62M699.93 49.75h44.62M744.55 49.75h44.62M789.17 49.75h44.62M833.79 49.75h44.62M878.40 49.75h44.62M923.02 49.75h44.62M967.64 49.75h44.62M1012.26 49.75h44.62M1056.88 49.75h44.62M164.50 94.88h44.62M209.12 94.88h44.62M253.74 94.88h44.62M298.36 94.88h44.62M342.98 94.88h44.62M387.60 94.88h44.62M432.21 94.88h44.62M476.83 94.88h44.62M521.45 94.88h44.62M566.07 94.88h44.62M610.69 94.88h44.62M655.31 94.88h44.62M699.93 94.88h44.62M744.55 94.88h44.62M789.17 94.88h44.62M833.79 94.88h44.62M878.40 94.88h44.62M923.02 94.88h44.62M967.64 94.88h44.62M1012.26 94.88h44.62M1056.88 94.88h44.62M164.50 140.00h44.62M209.12 140.00h44.62M253.74 140.00h44.62M298.36 140.00h44.62M342.98 140.00h44.62M387.60 140.00h44.62M432.21 140.00h44.62M476.83 140.00h44.62M521.45 140.00h44.62M566.07 140.00h44.62M610.69 140.00h44.62M655.31 140.00h44.62M699.93 140.00h44.62M744.55 140.00h44.62M789.17 140.00h44.62M833.79 140.00h44.62M878.40 140.00h44.62M923.02 140.00h44.62M967.64 140.00h44.62M1012.26 140.00h44.62M1056.88 140.00h44.62M164.50 185.13h44.62M209.12 185.13h44.62M253.74 185.13h44.62M298.36 185.13h44.62M342.98 185.13h44.62M387.60 185.13h44.62M432.21 185.13h44.62M476.83 185.13h44.62M521.45 185.13h44.62M566.07 185.13h44.62M610.69 185.13h44.62M655.31 185.13h44.62M699.93 185.13h44.62M744.55 185.13h44.62M789.17 185.13h44.62M833.79 185.13h44.62M878.40 185.13h44.62M923.02 185.13h44.62M967.64 185.13h44.62M1012.26 185.13h44.62M1056.88 185.13h44.62M164.50 230.26h44.62M209.12 230.26h44.62M253.74 230.26h44.62M298.36 230.26h44.62M342.98 230.26h44.62M387.60 230.26h44.62M432.21 230.26h44.62M476.83 230.26h44.62M521.45 230.26h44.62M566.07 230.26h44.62M610.69 230.26h44.62M655.31 230.26h44.62M699.93 230.26h44.62M744.55 230.26h44.62M789.17 230.26h44.62M833.79 230.26h44.62M878.40 230.26h44.62M923.02 230.26h44.62M967.64 230.26h44.62M1012.26 230.26h44.62M1056.88 230.26h44.62M164.50 275.39h44.62M209.12 275.39h44.62M253.74 275.39h44.62M298.36 275.39h44.62M342.98 275.39h44.62M387.60 275.39h44.62M432.21 275.39h44.62M476.83 275.39h44.62M521.45 275.39h44.62M566.07 275.39h44.62M610.69 275.39h44.62M655.31 275.39h44.62M699.93 275.39h44.62M744.55 275.39h44.62M789.17 275.39h44.62M833.79 275.39h44.62M878.40 275.39h44.62M923.02 275.39h44.62M967.64 275.39h44.62M1012.26 275.39h44.62M1056.88 275.39h44.62M164.50 320.51h44.62M209.12 320.51h44.62M253.74 320.51h44.62M298.36 320.51h44.62M342.98 320.51h44.62M387.60 320.51h44.62M432.21 320.51h44.62M476.83 320.51h44.62M521.45 320.51h44.62M566.07 320.51h44.62M610.69 320.51h44.62M655.31 320.51h44.62M699.93 320.51h44.62M744.55 320.51h44.62M789.17 320.51h44.62M833.79 320.51h44.62M878.40 320.51h44.62M923.02 320.51h44.62M967.64 320.51h44.62M1012.26 320.51h44.62M1056.88 320.51h44.62M164.50 365.64h44.62M209.12 365.64h44.62M253.74 365.64h44.62M298.36 365.64h44.62M342.98 365.64h44.62M387.60 365.64h44.62M432.21 365.64h44.62M476.83 365.64h44.62M521.45 365.64h44.62M566.07 365.64h44.62M610.69 365.64h44.62M655.31 365.64h44.62M699.93 365.64h44.62M744.55 365.64h44.62M789.17 365.64h44.62M833.79 365.64h44.62M878.40 365.64h44.62M923.02 365.64h44.62M967.64 365.64h44.62M1012.26 365.64h44.62M1056.88 365.64h44.62M164.50 410.77h44.62M209.12 410.77h44.62M253.74 410.77h44.62M298.36 410.77h44.62M342.98 410.77h44.62M387.60 410.77h44.62M432.21 410.77h44.62M476.83 410.77h44.62M521.45 410.77h44.62M566.07 410.77h44.62M610.69 410.77h44.62M655.31 410.77h44.62M699.93 410.77h44.62M744.55 410.77h44.62M789.17 410.77h44.62M833.79 410.77h44.62M878.40 410.77h44.62M923.02 410.77h44.62M967.64 410.77h44.62M1012.26 410.77h44.62M1056.88 410.77h44.62M164.50 455.90h44.62M209.12 455.90h44.62M253.74 455.90h44.62M298.36 455.90h44.62M342.98 455.90h44.62M387.60 455.90h44.62M432.21 455.90h44.62M476.83 455.90h44.62M521.45 455.90h44.62M566.07 455.90h44.62M610.69 455.90h44.62M655.31 455.90h44.62M699.93 455.90h44.62M744.55 455.90h44.62M789.17 455.90h44.62M833.79 455.90h44.62M878.40 455.90h44.62M923.02 455.90h44.62M967.64 455.90h44.62M1012.26 455.90h44.62M1056.88 455.90h44.62M164.50 501.02h44.62M209.12 501.02h44.62M253.74 501.02h44.62M298.36 501.02h44.62M342.98 501.02h44.62M387.60 501.02h44.62M432.21 501.02h44.62M476.83 501.02h44.62M521.45 501.02h44.62M566.07 501.02h44.62M610.69 501.02h44.62M655.31 501.02h44.62M699.93 501.02h44.62M744.55 501.02h44.62M789.17 501.02h44.62M833.79 501.02h44.62M878.40 501.02h44.62M923.02 501.02h44.62M967.64 501.02h44.62M1012.26 501.02h44.62M1056.88 501.02h44.62M164.50 546.15h44.62M209.12 546.15h44.62M253.74 546.15h44.62M298.36 546.15h44.62M342.98 546.15h44.62M387.60 546.15h44.62M432.21 546.15h44.62M476.83 546.15h44.62M521.45 546.15h44.62M566.07 546.15h44.62M610.69 546.15h44.62M655.31 546.15h44.62M699.93 546.15h44.62M744.55 546.15h44.62M789.17 546.15h44.62M833.79 546.15h44.62M878.40 546.15h44.62M923.02 546.15h44.62M967.64 546.15h44.62M1012.26 546.15h44.62M1056.88 546.15h44.62M164.50 591.28h44.62M209.12 591.28h44.62M253.74 591.28h44.62M298.36 591.28h44.62M342.98 591.28h44.62M387.60 591.28h44.62M432.21 591.28h44.62M476.83 591.28h44.62M521.45 591.28h44.62M566.07 591.28h44.62M610.69 591.28h44.62M655.31 591.28h44.62M699.93 591.28h44.62M744.55 591.28h44.62M789.17 591.28h44.62M833.79 591.28h44.62M878.40 591.28h44.62M923.02 591.28h44.62M967.64 591.28h44.62M1012.26 591.28h44.62M1056.88 591.28h44.62M164.50 636.41h44.62M209.12 636.41h44.62M253.74 636.41h44.62M298.36 636.41h44.62M342.98 636.41h44.62M387.60 636.41h44.62M432.21 636.41h44.62M476.83 636.41h44.62M521.45 636.41h44.62M566.07 636.41h44.62M610.69 636.41h44.62M655.31 636.41h44.62M699.93 636.41h44.62M744.55 636.41h44.62M789.17 636.41h44.62M833.79 636.41h44.62M878.40 636.41h44.62M923.02 636.41h44.62M967.64 636.41h44.62M1012.26 636.41h44.62M1056.88 636.41h44.62M164.50 681.53h44.62M209.12 681.53h44.62M253.74 681.53h44.62M298.36 681.53h44.62M342.98 681.53h44.62M387.60 681.53h44.62M432.21 681.53h44.62M476.83 681.53h44.62M521.45 681.53h44.62M566.07 681.53h44.62M610.69 681.53h44.62M655.31 681.53h44.62M699.93 681.53h44.62M744.55 681.53h44.62M789.17 681.53h44.62M833.79 681.53h44.62M878.40 681.53h44.62M923.02 681.53h44.62M967.64 681.53h44.62M1012.26 681.53h44.62M1056.88 681.53h44.62M164.50 726.66h44.62M209.12 726.66h44.62M253.74 726.66h44.62M298.36 726.66h44.62M342.98 726.66h44.62M387.60 726.66h44.62M432.21 726.66h44.62M476.83 726.66h44.62M521.45 726.66h44.62M566.07 726.66h44.62M610.69 726.66h44.62M655.31 726.66h44.62M699.93 726.66h44.62M744.55 726.66h44.62M789.17 726.66h44.62M833.79 726.66h44.62M878.40 726.66h44.62M923.02 726.66h44.62M967.64 726.66h44.62M1012.26 726.66h44.62M1056.88 726.66h44.62M164.50 771.79h44.62M209.12 771.79h44.62M253.74 771.79h44.62M298.36 771.79h44.62M342.98 771.79h44.62M387.60 771.79h44.62M432.21 771.79h44.62M476.83 771.79h44.62M521.45 771.79h44.62M566.07 771.79h44.62M610.69 771.79h44.62M655.31 771.79h44.62M699.93 771.79h44.62M744.55 771.79h44.62M789.17 771.79h44.62M833.79 771.79h44.62M878.40 771.79h44.62M923.02 771.79h44.62M967.64 771.79h44.62M1012.26 771.79h44.62M1056.88 771.79h44.62M164.50 816.92h44.62M209.12 816.92h44.62M253.74 816.92h44.62M298.36 816.92h44.62M342.98 816.92h44.62M387.60 816.92h44.62M432.21 816.92h44.62M476.83 816.92h44.62M521.45 816.92h44.62M566.07 816.92h44.62M610.69 816.92h44.62M655.31 816.92h44.62M699.93 816.92h44.62M744.55 816.92h44.62M789.17 816.92h44.62M833.79 816.92h44.62M878.40 816.92h44.62M923.02 816.92h44.62M967.64 816.92h44.62M1012.26 816.92h44.62M1056.88 816.92h44.62M164.50 862.04h44.62M209.12 862.04h44.62M253.74 862.04h44.62M298.36 862.04h44.62M342.98 862.04h44.62M387.60 862.04h44.62M432.21 862.04h44.62M476.83 862.04h44.62M521.45 862.04h44.62M566.07 862.04h44.62M610.69 862.04h44.62M655.31 862.04h44.62M699.93 862.04h44.62M744.55 862.04h44.62M789.17 862.04h44.62M833.79 862.04h44.62M878.40 862.04h44.62M923.02 862.04h44.62M967.64 862.04h44.62M1012.26 862.04h44.62M1056.88 862.04h44.62M164.50 907.17h44.62M209.12 907.17h44.62M253.74 907.17h44.62M298.36 907.17h44.62M342.98 907.17h44.62M387.60 907.17h44.62M432.21 907.17h44.62M476.83 907.17h44.62M521.45 907.17h44.62M566.07 907.17h44.62M610.69 907.17h44.62M655.31 907.17h44.62M699.93 907.17h44.62M744.55 907.17h44.62M789.17 907.17h44.62M833.79 907.17h44.62M878.40 907.17h44.62M923.02 907.17h44.62M967.64 907.17h44.62M1012.26 907.17h44.62M1056.88 907.17h44.62M164.50 952.30h44.62M209.12 952.30h44.62M253.74 952.30h44.62M298.36 952.30h44.62M342.98 952.30h44.62M387.60 952.30h44.62M432.21 952.30h44.62M476.83 952.30h44.62M521.45 952.30h44.62M566.07 952.30h44.62M610.69 952.30h44.62M655.31 952.30h44.62M699.93 952.30h44.62M744.55 952.30h44.62M789.17 952.30h44.62M833.79 952.30h44.62M878.40 952.30h44.62M923.02 952.30h44.62M967.64 952.30h44.62M1012.26 952.30h44.62M209.12 4.62v45.13M253.74 4.62v45.13M298.36 4.62v45.13M342.98 4.62v45.13M387.60 4.62v45.13M432.21 4.62v45.13M476.83 4.62v45.13M521.45 4.62v45.13M566.07 4.62v45.13M610.69 4.62v45.13M655.31 4.62v45.13M699.93 4.62v45.13M744.55 4.62v45.13M789.17 4.62v45.13M833.79 4.62v45.13M878.40 4.62v45.13M923.02 4.62v45.13M967.64 4.62v45.13M1012.26 4.62v45.13M1056.88 4.62v45.13M1101.50 4.62v45.13M164.50 49.75v45.13M209.12 49.75v45.13M253.74 49.75v45.13M298.36 49.75v45.13M342.98 49.75v45.13M387.60 49.75v45.13M432.21 49.75v45.13M476.83 49.75v45.13M521.45 49.75v45.13M566.07 49.75v45.13M610.69 49.75v45.13M655.31 49.75v45.13M699.93 49.75v45.13M744.55 49.75v45.13M789.17 49.75v45.13M833.79 49.75v45.13M878.40 49.75v45.13M923.02 49.75v45.13M967.64 49.75v45.13M1012.26 49.75v45.13M1056.88 49.75v45.13M1101.50 49.75v45.13M164.50 94.88v45.13M209.12 94.88v45.13M253.74 94.88v45.13M298.36 94.88v45.13M342.98 94.88v45.13M387.60 94.88v45.13M432.21 94.88v45.13M476.83 94.88v45.13M521.45 94.88v45.13M566.07 94.88v45.13M610.69 94.88v45.13M655.31 94.88v45.13M699.93 94.88v45.13M744.55 94.88v45.13M789.17 94.88v45.13M833.79 94.88v45.13M878.40 94.88v45.13M923.02 94.88v45.13M967.64 94.88v45.13M1012.26 94.88v45.13M1056.88 94.88v45.13M1101.50 94.88v45.13M164.50 140.00v45.13M209.12 140.00v45.13M253.74 140.00v45.13M298.36 140.00v45.13M342.98 140.00v45.13M387.60 140.00v45.13M432.21 140.00v45.13M476.83 140.00v45.13M521.45 140.00v45.13M566.07 140.00v45.13M610.69 140.00v45.13M655.31 140.00v45.13M699.93 140.00v45.13M744.55 140.00v45.13M789.17 140.00v45.13M833.79 140.00v45.13M878.40 140.00v45.13M923.02 140.00v45.13M967.64 140.00v45.13M1012.26 140.00v45.13M1056.88 140.00v45.13M1101.50 140.00v45.13M164.50 185.13v45.13M209.12 185.13v45.13M253.74 185.13v45.13M298.36 185.13v45.13M342.98 185.13v45.13M387.60 185.13v45.13M432.21 185.13v45.13M476.83 185.13v45.13M521.45 185.13v45.13M566.07 185.13v45.13M610.69 185.13v45.13M655.31 185.13v45.13M699.93 185.13v45.13M744.55 185.13v45.13M789.17 185.13v45.13M833.79 185.13v45.13M878.40 185.13v45.13M923.02 185.13v45.13M967.64 185.13v45.13M1012.26 185.13v45.13M1056.88 185.13v45.13M1101.50 185.13v45.13M164.50 230.26v45.13M209.12 230.26v45.13M253.74 230.26v45.13M298.36 230.26v45.13M342.98 230.26v45.13M387.60 230.26v45.13M432.21 230.26v45.13M476.83 230.26v45.13M521.45 230.26v45.13M566.07 230.26v45.13M610.69 230.26v45.13M655.31 230.26v45.13M699.93 230.26v45.13M744.55 230.26v45.13M789.17 230.26v45.13M833.79 230.26v45.13M878.40 230.26v45.13M923.02 230.26v45.13M967.64 230.26v45.13M1012.26 230.26v45.13M1056.88 230.26v45.13M1101.50 230.26v45.13M164.50 275.39v45.13M209.12 275.39v45.13M253.74 275.39v45.13M298.36 275.39v45.13M342.98 275.39v45.13M387.60 275.39v45.13M432.21 275.39v45.13M476.83 275.39v45.13M521.45 275.39v45.13M566.07 275.39v45.13M610.69 275.39v45.13M655.31 275.39v45.13M699.93 275.39v45.13M744.55 275.39v45.13M789.17 275.39v45.13M833.79 275.39v45.13M878.40 275.39v45.13M923.02 275.39v45.13M967.64 275.39v45.13M1012.26 275.39v45.13M1056.88 275.39v45.13M1101.50 275.39v45.13M164.50 320.51v45.13M209.12 320.51v45.13M253.74 320.51v45.13M298.36 320.51v45.13M342.98 320.51v45.13M387.60 320.51v45.13M432.21 320.51v45.13M476.83 320.51v45.13M521.45 320.51v45.13M566.07 320.51v45.13M610.69 320.51v45.13M655.31 320.51v45.13M699.93 320.51v45.13M744.55 320.51v45.13M789.17 320.51v45.13M833.79 320.51v45.13M878.40 320.51v45.13M923.02 320.51v45.13M967.64 320.51v45.13M1012.26 320.51v45.13M1056.88 320.51v45.13M1101.50 320.51v45.13M164.50 365.64v45.13M209.12 365.64v45.13M253.74 365.64v45.13M298.36 365.64v45.13M342.98 365.64v45.13M387.60 365.64v45.13M432.21 365.64v45.13M476.83 365.64v45.13M521.45 365.64v45.13M566.07 365.64v45.13M610.69 365.64v45.13M655.31 365.64v45.13M699.93 365.64v45.13M744.55 365.64v45.13M789.17 365.64v45.13M833.79 365.64v45.13M878.40 365.64v45.13M923.02 365.64v45.13M967.64 365.64v45.13M1012.26 365.64v45.13M1056.88 365.64v45.13M1101.50 365.64v45.13M164.50 410.77v45.13M209.12 410.77v45.13M253.74 410.77v45.13M298.36 410.77v45.13M342.98 410.77v45.13M387.60 410.77v45.13M432.21 410.77v45.13M476.83 410.77v45.13M521.45 410.77v45.13M566.07 410.77v45.13M610.69 410.77v45.13M655.31 410.77v45.13M699.93 410.77v45.13M744.55 410.77v45.13M789.17 410.77v45.13M833.79 410.77v45.13M878.40 410.77v45.13M923.02 410.77v45.13M967.64 410.77v45.13M1012.26 410.77v45.13M1056.88 410.77v45.13M1101.50 410.77v45.13M164.50 455.90v45.13M209.12 455.90v45.13M253.74 455.90v45.13M298.36 455.90v45.13M342.98 455.90v45.13M387.60 455.90v45.13M432.21 455.90v45.13M476.83 455.90v45.13M521.45 455.90v45.13M566.07 455.90v45.13M610.69 455.90v45.13M655.31 455.90v45.13M699.93 455.90v45.13M744.55 455.90v45.13M789.17 455.90v45.13M833.79 455.90v45.13M878.40 455.90v45.13M923.02 455.90v45.13M967.64 455.90v45.13M1012.26 455.90v45.13M1056.88 455.90v45.13M1101.50 455.90v45.13M164.50 501.02v45.13M209.12 501.02v45.13M253.74 501.02v45.13M298.36 501.02v45.13M342.98 501.02v45.13M387.60 501.02v45.13M432.21 501.02v45.13M476.83 501.02v45.13M521.45 501.02v45.13M566.07 501.02v45.13M610.69 501.02v45.13M655.31 501.02v45.13M699.93 501.02v45.13M744.55 501.02v45.13M789.17 501.02v45.13M833.79 501.02v45.13M878.40 501.02v45.13M923.02 501.02v45.13M967.64 501.02v45.13M1012.26 501.02v45.13M1056.88 501.02v45.13M1101.50 501.02v45.13M164.50 546.15v45.13M209.12 546.15v45.13M253.74 546.15v45.13M298.36 546.15v45.13M342.98 546.15v45.13M387.60 546.15v45.13M432.21 546.15v45.13M476.83 546.15v45.13M521.45 546.15v45.13M566.07 546.15v45.13M610.69 546.15v45.13M655.31 546.15v45.13M699.93 546.15v45.13M744.55 546.15v45.13M789.17 546.15v45.13M833.79 546.15v45.13M878.40 546.15v45.13M923.02 546.15v45.13M967.64 546.15v45.13M1012.26 546.15v45.13M1056.88 546.15v45.13M1101.50 546.15v45.13M164.50 591.28v45.13M209.12 591.28v45.13M253.74 591.28v45.13M298.36 591.28v45.13M342.98 591.28v45.13M387.60 591.28v45.13M432.21 591.28v45.13M476.83 591.28v45.13M521.45 591.28v45.13M566.07 591.28v45.13M610.69 591.28v45.13M655.31 591.28v45.13M699.93 591.28v45.13M744.55 591.28v45.13M789.17 591.28v45.13M833.79 591.28v45.13M878.40 591.28v45.13M923.02 591.28v45.13M967.64 591.28v45.13M1012.26 591.28v45.13M1056.88 591.28v45.13M1101.50 591.28v45.13M164.50 636.41v45.13M209.12 636.41v45.13M253.74 636.41v45.13M298.36 636.41v45.13M342.98 636.41v45.13M387.60 636.41v45.13M432.21 636.41v45.13M476.83 636.41v45.13M521.45 636.41v45.13M566.07 636.41v45.13M610.69 636.41v45.13M655.31 636.41v45.13M699.93 636.41v45.13M744.55 636.41v45.13M789.17 636.41v45.13M833.79 636.41v45.13M878.40 636.41v45.13M923.02 636.41v45.13M967.64 636.41v45.13M1012.26 636.41v45.13M1056.88 636.41v45.13M1101.50 636.41v45.13M164.50 681.53v45.13M209.12 681.53v45.13M253.74 681.53v45.13M298.36 681.53v45.13M342.98 681.53v45.13M387.60 681.53v45.13M432.21 681.53v45.13M476.83 681.53v45.13M521.45 681.53v45.13M566.07 681.53v45.13M610.69 681.53v45.13M655.31 681.53v45.13M699.93 681.53v45.13M744.55 681.53v45.13M789.17 681.53v45.13M833.79 681.53v45.13M878.40 681.53v45.13M923.02 681.53v45.13M967.64 681.53v45.13M1012.26 681.53v45.13M1056.88 681.53v45.13M1101.50 681.53v45.13M164.50 726.66v45.13M209.12 726.66v45.13M253.74 726.66v45.13M298.36 726.66v45.13M342.98 726.66v45.13M387.60 726.66v45.13M432.21 726.66v45.13M476.83 726.66v45.13M521.45 726.66v45.13M566.07 726.66v45.13M610.69 726.66v45.13M655.31 726.66v45.13M699.93 726.66v45.13M744.55 726.66v45.13M789.17 726.66v45.13M833.79 726.66v45.13M878.40 726.66v45.13M923.02 726.66v45.13M967.64 726.66v45.13M1012.26 726.66v45.13M1056.88 726.66v45.13M1101.50 726.66v45.13M164.50 771.79v45.13M209.12 771.79v45.13M253.74 771.79v45.13M298.36 771.79v45.13M342.98 771.79v45.13M387.60 771.79v45.13M432.21 771.79v45.13M476.83 771.79v45.13M521.45 771.79v45.13M566.07 771.79v45.13M610.69 771.79v45.13M655.31 771.79v45.13M699.93 771.79v45.13M744.55 771.79v45.13M789.17 771.79v45.13M833.79 771.79v45.13M878.40 771.79v45.13M923.02 771.79v45.13M967.64 771.79v45.13M1012.26 771.79v45.13M1056.88 771.79v45.13M1101.50 771.79v45.13M164.50 816.92v45.13M209.12 816.92v45.13M253.74 816.92v45.13M298.36 816.92v45.13M342.98 816.92v45.13M387.60 816.92v45.13M432.21 816.92v45.13M476.83 816.92v45.13M521.45 816.92v45.13M566.07 816.92v45.13M610.69 816.92v45.13M655.31 816.92v45.13M699.93 816.92v45.13M744.55 816.92v45.13M789.17 816.92v45.13M833.79 816.92v45.13M878.40 816.92v45.13M923.02 816.92v45.13M967.64 816.92v45.13M1012.26 816.92v45.13M1056.88 816.92v45.13M1101.50 816.92v45.13M164.50 862.04v45.13M209.12 862.04v45.13M253.74 862.04v45.13M298.36 862.04v45.13M342.98 862.04v45.13M387.60 862.04v45.13M432.21 862.04v45.13M476.83 862.04v45.13M521.45 862.04v45.13M566.07 862.04v45.13M610.69 862.04v45.13M655.31 862.04v45.13M699.93 862.04v45.13M744.55 862.04v45.13M789.17 862.04v45.13M833.79 862.04v45.13M878.40 862.04v45.13M923.02 862.04v45.13M967.64 862.04v45.13M1012.26 862.04v45.13M1056.88 862.04v45.13M1101.50 862.04v45.13M164.50 907.17v45.13M209.12 907.17v45.13M253.74 907.17v45.13M298.36 907.17v45.13M342.98 907.17v45.13M387.60 907.17v45.13M432.21 907.17v45.13M476.83 907.17v45.13M521.45 907.17v45.13M566.07 907.17v45.13M610.69 907.17v45.13M655.31 907.17v45.13M699.93 907.17v45.13M744.55 907.17v45.13M789.17 907.17v45.13M833.79 907.17v45.13M878.40 907.17v45.13M923.02 907.17v45.13M967.64 907.17v45.13M1012.26 907.17v45.13M1056.88 907.17v45.13" fill="none" stroke="#BEBEBE" stroke-width="0.45" stroke-linecap="square"/>
<g class="c">
<text x="233.43" y="33.58">0.85</text>
<text x="278.05" y="33.58">0.89</text>
<text x="322.67" y="33.58">0.86</text>
<text x="367.29" y="33.58">0.78</text>
<text x="411.90" y="33.58">0.79</text>
<text x="456.52" y="33.58">0.47</text>
<text x="501.14" y="33.58">0.32</text>
<text x="545.76" y="33.58">0.30</text>
<text x="590.38" y="33.58">0.42</text>
<text x="635.00" y="33.58">0.56</text>
<text x="679.62" y="33.58">0.50</text>
<text x="724.24" y="33.58">0.56</text>
<text x="768.86" y="33.58">0.63</text>
<text x="813.48" y="33.58">0.24</text>
<text x="858.10" y="33.58">0.34</text>
<text x="902.71" y="33.58">0.48</text>
<text x="947.33" y="33.58">0.39</text>
<text x="991.95" y="33.58">0.42</text>
<text x="1036.57" y="33.58">0.08</text>
<text x="1081.19" y="33.58">0.12</text>
<text x="188.81" y="78.71">0.84</text>
<text x="278.05" y="78.71">0.61</text>
<text x="322.67" y="78.71">0.63</text>
<text x="367.29" y="78.71">0.64</text>
<text x="411.90" y="78.71">0.66</text>
<text x="456.52" y="78.71">0.50</text>
<text x="501.14" y="78.71">0.39</text>
<text x="545.76" y="78.71">0.35</text>
<text x="590.38" y="78.71">0.53</text>
<text x="635.00" y="78.71">0.61</text>
<text x="679.62" y="78.71">0.57</text>
<text x="724.24" y="78.71">0.56</text>
<text x="768.86" y="78.71">0.70</text>
<text x="813.48" y="78.71">0.39</text>
<text x="858.10" y="78.71">0.49</text>
<text x="902.71" y="78.71">0.53</text>
<text x="947.33" y="78.71">0.40</text>
<text x="991.95" y="78.71">0.44</text>
<text x="1036.57" y="78.71">0.08</text>
<text x="1081.19" y="78.71">0.13</text>
<text x="188.81" y="123.84">0.90</text>
<text x="233.43" y="123.84">0.70</text>
<text x="322.67" y="123.84">0.86</text>
<text x="367.29" y="123.84">0.76</text>
<text x="411.90" y="123.84">0.78</text>
<text x="456.52" y="123.84">0.38</text>
<text x="501.14" y="123.84">0.23</text>
<text x="545.76" y="123.84">0.26</text>
<text x="590.38" y="123.84">0.37</text>
<text x="635.00" y="123.84">0.45</text>
<text x="679.62" y="123.84">0.43</text>
<text x="724.24" y="123.84">0.47</text>
<text x="768.86" y="123.84">0.56</text>
<text x="813.48" y="123.84">0.20</text>
<text x="858.10" y="123.84">0.27</text>
<text x="902.71" y="123.84">0.40</text>
<text x="947.33" y="123.84">0.37</text>
<text x="991.95" y="123.84">0.39</text>
<text x="1036.57" y="123.84">0.04</text>
<text x="1081.19" y="123.84">0.09</text>
<text x="188.81" y="168.97">0.78</text>
<text x="233.43" y="168.97">0.58</text>
<text x="278.05" y="168.97">0.81</text>
<text x="367.29" y="168.97">0.72</text>
<text x="411.90" y="168.97">0.70</text>
<text x="456.52" y="168.97">0.50</text>
<text x="501.14" y="168.97">0.28</text>
<text x="545.76" y="168.97">0.35</text>
<text x="590.38" y="168.97">0.47</text>
<text x="635.00" y="168.97">0.57</text>
<text x="679.62" y="168.97">0.45</text>
<text x="724.24" y="168.97">0.50</text>
<text x="768.86" y="168.97">0.70</text>
<text x="813.48" y="168.97">0.40</text>
<text x="858.10" y="168.97">0.46</text>
<text x="902.71" y="168.97">0.53</text>
<text x="947.33" y="168.97">0.57</text>
<text x="991.95" y="168.97">0.59</text>
<text x="1036.57" y="168.97">0.20</text>
<text x="1081.19" y="168.97">0.25</text>
<text x="188.81" y="214.09">0.76</text>
<text x="233.43" y="214.09">0.69</text>
<text x="278.05" y="214.09">0.78</text>
<text x="322.67" y="214.09">0.69</text>
<text x="411.90" y="214.09">0.99</text>
<text x="456.52" y="214.09">0.44</text>
<text x="501.14" y="214.09">0.29</text>
<text x="545.76" y="214.09">0.33</text>
<text x="590.38" y="214.09">0.41</text>
<text x="635.00" y="214.09">0.51</text>
<text x="679.62" y="214.09">0.45</text>
<text x="724.24" y="214.09">0.63</text>
<text x="768.86" y="214.09">0.62</text>
<text x="813.48" y="214.09">0.33</text>
<text x="858.10" y="214.09">0.39</text>
<text x="902.71" y="214.09">0.48</text>
<text x="947.33" y="214.09">0.43</text>
<text x="991.95" y="214.09">0.44</text>
<text x="1036.57" y="214.09">0.06</text>
<text x="1081.19" y="214.09">0.08</text>
<text x="188.81" y="259.22">0.77</text>
<text x="233.43" y="259.22">0.69</text>
<text x="278.05" y="259.22">0.78</text>
<text x="322.67" y="259.22">0.69</text>
<text x="367.29" y="259.22">1.00</text>
<text x="456.52" y="259.22">0.42</text>
<text x="501.14" y="259.22">0.30</text>
<text x="545.76" y="259.22">0.33</text>
<text x="590.38" y="259.22">0.44</text>
<text x="635.00" y="259.22">0.54</text>
<text x="679.62" y="259.22">0.47</text>
<text x="724.24" y="259.22">0.65</text>
<text x="768.86" y="259.22">0.62</text>
<text x="813.48" y="259.22">0.32</text>
<text x="858.10" y="259.22">0.37</text>
<text x="902.71" y="259.22">0.50</text>
<text x="947.33" y="259.22">0.42</text>
<text x="991.95" y="259.22">0.44</text>
<text x="1036.57" y="259.22">0.08</text>
<text x="1081.19" y="259.22">0.10</text>
<text x="188.81" y="304.35">0.34</text>
<text x="233.43" y="304.35">0.43</text>
<text x="278.05" y="304.35">0.33</text>
<text x="322.67" y="304.35">0.34</text>
<text x="367.29" y="304.35">0.39</text>
<text x="411.90" y="304.35">0.39</text>
<text x="501.14" y="304.35">0.65</text>
<text x="545.76" y="304.35">0.75</text>
<text x="590.38" y="304.35">0.65</text>
<text x="635.00" y="304.35">0.59</text>
<text x="679.62" y="304.35">0.40</text>
<text x="724.24" y="304.35">0.41</text>
<text x="768.86" y="304.35">0.58</text>
<text x="813.48" y="304.35">0.47</text>
<text x="858.10" y="304.35">0.48</text>
<text x="902.71" y="304.35">0.44</text>
<text x="947.33" y="304.35">0.47</text>
<text x="991.95" y="304.35">0.49</text>
<text x="1036.57" y="304.35">0.14</text>
<text x="1081.19" y="304.35">0.17</text>
<text x="188.81" y="349.48">0.09</text>
<text x="233.43" y="349.48">0.19</text>
<text x="278.05" y="349.48">0.10</text>
<text x="322.67" y="349.48">0.12</text>
<text x="367.29" y="349.48">0.16</text>
<text x="411.90" y="349.48">0.17</text>
<text x="456.52" y="349.48">0.60</text>
<text x="545.76" y="349.48">0.32</text>
<text x="590.38" y="349.48">0.33</text>
<text x="635.00" y="349.48">0.45</text>
<text x="679.62" y="349.48">0.23</text>
<text x="724.24" y="349.48">0.32</text>
<text x="768.86" y="349.48">0.44</text>
<text x="813.48" y="349.48">0.37</text>
<text x="858.10" y="349.48">0.39</text>
<text x="902.71" y="349.48">0.29</text>
<text x="947.33" y="349.48">0.30</text>
<text x="991.95" y="349.48">0.35</text>
<text x="1036.57" y="349.48">0.09</text>
<text x="1081.19" y="349.48">0.13</text>
<text x="188.81" y="394.60">0.29</text>
<text x="233.43" y="394.60">0.31</text>
<text x="278.05" y="394.60">0.26</text>
<text x="322.67" y="394.60">0.33</text>
<text x="367.29" y="394.60">0.32</text>
<text x="411.90" y="394.60">0.27</text>
<text x="456.52" y="394.60">0.69</text>
<text x="501.14" y="394.60">0.28</text>
<text x="590.38" y="394.60">0.80</text>
<text x="635.00" y="394.60">0.51</text>
<text x="679.62" y="394.60">0.28</text>
<text x="724.24" y="394.60">0.30</text>
<text x="768.86" y="394.60">0.38</text>
<text x="813.48" y="394.60">0.31</text>
<text x="858.10" y="394.60">0.32</text>
<text x="902.71" y="394.60">0.19</text>
<text x="947.33" y="394.60">0.25</text>
<text x="991.95" y="394.60">0.27</text>
<text x="1036.57" y="394.60">0.04</text>
<text x="1081.19" y="394.60">0.10</text>
<text x="188.81" y="439.73">0.39</text>
<text x="233.43" y="439.73">0.48</text>
<text x="278.05" y="439.73">0.36</text>
<text x="322.67" y="439.73">0.33</text>
<text x="367.29" y="439.73">0.39</text>
<text x="411.90" y="439.73">0.36</text>
<text x="456.52" y="439.73">0.61</text>
<text x="501.14" y="439.73">0.33</text>
<text x="545.76" y="439.73">0.72</text>
<text x="635.00" y="439.73">0.60</text>
<text x="679.62" y="439.73">0.37</text>
<text x="724.24" y="439.73">0.41</text>
<text x="768.86" y="439.73">0.57</text>
<text x="813.48" y="439.73">0.47</text>
<text x="858.10" y="439.73">0.49</text>
<text x="902.71" y="439.73">0.33</text>
<text x="947.33" y="439.73">0.42</text>
<text x="991.95" y="439.73">0.46</text>
<text x="1036.57" y="439.73">0.18</text>
<text x="1081.19" y="439.73">0.23</text>
<text x="188.81" y="484.86">0.43</text>
<text x="233.43" y="484.86">0.48</text>
<text x="278.05" y="484.86">0.41</text>
<text x="322.67" y="484.86">0.38</text>
<text x="367.29" y="484.86">0.42</text>
<text x="411.90" y="484.86">0.42</text>
<text x="456.52" y="484.86">0.49</text>
<text x="501.14" y="484.86">0.26</text>
<text x="545.76" y="484.86">0.45</text>
<text x="590.38" y="484.86">0.43</text>
<text x="679.62" y="484.86">0.41</text>
<text x="724.24" y="484.86">0.45</text>
<text x="768.86" y="484.86">0.63</text>
<text x="813.48" y="484.86">0.47</text>
<text x="858.10" y="484.86">0.54</text>
<text x="902.71" y="484.86">0.48</text>
<text x="947.33" y="484.86">0.45</text>
<text x="991.95" y="484.86">0.51</text>
<text x="1036.57" y="484.86">0.19</text>
<text x="1081.19" y="484.86">0.21</text>
<text x="188.81" y="529.99">0.26</text>
<text x="233.43" y="529.99">0.28</text>
<text x="278.05" y="529.99">0.39</text>
<text x="322.67" y="529.99">0.24</text>
<text x="367.29" y="529.99">0.32</text>
<text x="411.90" y="529.99">0.33</text>
<text x="456.52" y="529.99">0.29</text>
<text x="501.14" y="529.99">0.15</text>
<text x="545.76" y="529.99">0.08</text>
<text x="590.38" y="529.99">0.28</text>
<text x="635.00" y="529.99">0.24</text>
<text x="724.24" y="529.99">0.49</text>
<text x="768.86" y="529.99">0.51</text>
<text x="813.48" y="529.99">0.36</text>
<text x="858.10" y="529.99">0.41</text>
<text x="902.71" y="529.99">0.47</text>
<text x="947.33" y="529.99">0.31</text>
<text x="991.95" y="529.99">0.35</text>
<text x="1036.57" y="529.99">0.08</text>
<text x="1081.19" y="529.99">0.15</text>
<text x="188.81" y="575.12">0.43</text>
<text x="233.43" y="575.12">0.43</text>
<text x="278.05" y="575.12">0.41</text>
<text x="322.67" y="575.12">0.52</text>
<text x="367.29" y="575.12">0.49</text>
<text x="411.90" y="575.12">0.50</text>
<text x="456.52" y="575.12">0.31</text>
<text x="501.14" y="575.12">0.28</text>
<text x="545.76" y="575.12">0.20</text>
<text x="590.38" y="575.12">0.36</text>
<text x="635.00" y="575.12">0.27</text>
<text x="679.62" y="575.12">0.21</text>
<text x="768.86" y="575.12">0.59</text>
<text x="813.48" y="575.12">0.43</text>
<text x="858.10" y="575.12">0.53</text>
<text x="902.71" y="575.12">0.56</text>
<text x="947.33" y="575.12">0.38</text>
<text x="991.95" y="575.12">0.42</text>
<text x="1036.57" y="575.12">0.12</text>
<text x="1081.19" y="575.12">0.14</text>
<text x="188.81" y="620.24">0.43</text>
<text x="233.43" y="620.24">0.50</text>
<text x="278.05" y="620.24">0.51</text>
<text x="322.67" y="620.24">0.71</text>
<text x="367.29" y="620.24">0.52</text>
<text x="411.90" y="620.24">0.51</text>
<text x="456.52" y="620.24">0.48</text>
<text x="501.14" y="620.24">0.34</text>
<text x="545.76" y="620.24">0.35</text>
<text x="590.38" y="620.24">0.46</text>
<text x="635.00" y="620.24">0.32</text>
<text x="679.62" y="620.24">0.46</text>
<text x="724.24" y="620.24">0.61</text>
<text x="813.48" y="620.24">0.90</text>
<text x="858.10" y="620.24">0.89</text>
<text x="902.71" y="620.24">0.77</text>
<text x="947.33" y="620.24">0.87</text>
<text x="991.95" y="620.24">0.86</text>
<text x="1036.57" y="620.24">0.43</text>
<text x="1081.19" y="620.24">0.45</text>
<text x="188.81" y="665.37">0.05</text>
<text x="233.43" y="665.37">0.19</text>
<text x="278.05" y="665.37">0.18</text>
<text x="322.67" y="665.37">0.45</text>
<text x="367.29" y="665.37">0.24</text>
<text x="411.90" y="665.37">0.23</text>
<text x="456.52" y="665.37">0.38</text>
<text x="501.14" y="665.37">0.34</text>
<text x="545.76" y="665.37">0.27</text>
<text x="590.38" y="665.37">0.35</text>
<text x="635.00" y="665.37">0.17</text>
<text x="679.62" y="665.37">0.40</text>
<text x="724.24" y="665.37">0.49</text>
<text x="768.86" y="665.37">0.92</text>
<text x="858.10" y="665.37">0.93</text>
<text x="902.71" y="665.37">0.70</text>
<text x="947.33" y="665.37">0.88</text>
<text x="991.95" y="665.37">0.85</text>
<text x="1036.57" y="665.37">0.50</text>
<text x="1081.19" y="665.37">0.50</text>
<text x="188.81" y="710.50">0.18</text>
<text x="233.43" y="710.50">0.26</text>
<text x="278.05" y="710.50">0.28</text>
<text x="322.67" y="710.50">0.55</text>
<text x="367.29" y="710.50">0.29</text>
<text x="411.90" y="710.50">0.28</text>
<text x="456.52" y="710.50">0.40</text>
<text x="501.14" y="710.50">0.33</text>
<text x="545.76" y="710.50">0.30</text>
<text x="590.38" y="710.50">0.34</text>
<text x="635.00" y="710.50">0.23</text>
<text x="679.62" y="710.50">0.30</text>
<text x="724.24" y="710.50">0.48</text>
<text x="768.86" y="710.50">0.90</text>
<text x="813.48" y="710.50">0.93</text>
<text x="902.71" y="710.50">0.67</text>
<text x="947.33" y="710.50">0.82</text>
<text x="991.95" y="710.50">0.81</text>
<text x="1036.57" y="710.50">0.48</text>
<text x="1081.19" y="710.50">0.49</text>
<text x="188.81" y="755.63">0.30</text>
<text x="233.43" y="755.63">0.40</text>
<text x="278.05" y="755.63">0.39</text>
<text x="322.67" y="755.63">0.60</text>
<text x="367.29" y="755.63">0.42</text>
<text x="411.90" y="755.63">0.40</text>
<text x="456.52" y="755.63">0.36</text>
<text x="501.14" y="755.63">0.34</text>
<text x="545.76" y="755.63">0.28</text>
<text x="590.38" y="755.63">0.34</text>
<text x="635.00" y="755.63">0.20</text>
<text x="679.62" y="755.63">0.38</text>
<text x="724.24" y="755.63">0.44</text>
<text x="768.86" y="755.63">0.87</text>
<text x="813.48" y="755.63">0.83</text>
<text x="858.10" y="755.63">0.81</text>
<text x="947.33" y="755.63">0.71</text>
<text x="991.95" y="755.63">0.69</text>
<text x="1036.57" y="755.63">0.48</text>
<text x="1081.19" y="755.63">0.46</text>
<text x="188.81" y="800.75">0.21</text>
<text x="233.43" y="800.75">0.24</text>
<text x="278.05" y="800.75">0.31</text>
<text x="322.67" y="800.75">0.54</text>
<text x="367.29" y="800.75">0.36</text>
<text x="411.90" y="800.75">0.34</text>
<text x="456.52" y="800.75">0.40</text>
<text x="501.14" y="800.75">0.28</text>
<text x="545.76" y="800.75">0.29</text>
<text x="590.38" y="800.75">0.33</text>
<text x="635.00" y="800.75">0.27</text>
<text x="679.62" y="800.75">0.34</text>
<text x="724.24" y="800.75">0.48</text>
<text x="768.86" y="800.75">0.88</text>
<text x="813.48" y="800.75">0.87</text>
<text x="858.10" y="800.75">0.86</text>
<text x="902.71" y="800.75">0.74</text>
<text x="991.95" y="800.75">0.97</text>
<text x="1036.57" y="800.75">0.52</text>
<text x="1081.19" y="800.75">0.49</text>
<text x="188.81" y="845.88">0.18</text>
<text x="233.43" y="845.88">0.22</text>
<text x="278.05" y="845.88">0.28</text>
<text x="322.67" y="845.88">0.55</text>
<text x="367.29" y="845.88">0.33</text>
<text x="411.90" y="845.88">0.31</text>
<text x="456.52" y="845.88">0.41</text>
<text x="501.14" y="845.88">0.31</text>
<text x="545.76" y="845.88">0.23</text>
<text x="590.38" y="845.88">0.32</text>
<text x="635.00" y="845.88">0.26</text>
<text x="679.62" y="845.88">0.35</text>
<text x="724.24" y="845.88">0.48</text>
<text x="768.86" y="845.88">0.89</text>
<text x="813.48" y="845.88">0.89</text>
<text x="858.10" y="845.88">0.90</text>
<text x="902.71" y="845.88">0.78</text>
<text x="947.33" y="845.88">0.96</text>
<text x="1036.57" y="845.88">0.51</text>
<text x="1081.19" y="845.88">0.49</text>
<text x="185.01" y="891.01">−0.01</text>
<text x="233.43" y="891.01">0.10</text>
<text x="278.05" y="891.01">0.03</text>
<text x="322.67" y="891.01">0.13</text>
<text x="367.29" y="891.01">0.07</text>
<text x="411.90" y="891.01">0.08</text>
<text x="456.52" y="891.01">0.12</text>
<text x="501.14" y="891.01">0.12</text>
<text x="545.76" y="891.01">0.05</text>
<text x="590.38" y="891.01">0.14</text>
<text x="635.00" y="891.01">0.09</text>
<text x="679.62" y="891.01">0.09</text>
<text x="724.24" y="891.01">0.06</text>
<text x="768.86" y="891.01">0.35</text>
<text x="813.48" y="891.01">0.40</text>
<text x="858.10" y="891.01">0.36</text>
<text x="902.71" y="891.01">0.20</text>
<text x="947.33" y="891.01">0.38</text>
<text x="991.95" y="891.01">0.31</text>
<text x="1081.19" y="891.01">0.85</text>
<text x="188.81" y="936.14">0.03</text>
<text x="233.43" y="936.14">0.13</text>
<text x="278.05" y="936.14">0.10</text>
<text x="322.67" y="936.14">0.14</text>
<text x="367.29" y="936.14">0.12</text>
<text x="411.90" y="936.14">0.13</text>
<text x="456.52" y="936.14">0.08</text>
<text x="501.14" y="936.14">0.14</text>
<text x="545.76" y="936.14">0.02</text>
<text x="590.38" y="936.14">0.04</text>
<text x="635.00" y="936.14">0.09</text>
<text x="679.62" y="936.14">0.06</text>
<text x="724.24" y="936.14">0.07</text>
<text x="768.86" y="936.14">0.35</text>
<text x="813.48" y="936.14">0.39</text>
<text x="858.10" y="936.14">0.40</text>
<text x="902.71" y="936.14">0.31</text>
<text x="947.33" y="936.14">0.36</text>
<text x="991.95" y="936.14">0.34</text>
<text x="1036.57" y="936.14">0.75</text>
</g>
<g class="y">
<text x="157.40" y="33.33">total_H</text>
<text x="157.40" y="78.46">sitting_H</text>
<text x="157.40" y="123.59">knee_H</text>
<text x="157.40" y="168.72">buttock_knee_L</text>
<text x="157.40" y="213.84">foot_L_left</text>
<text x="157.40" y="258.97">foot_L_right</text>
<text x="157.40" y="304.10">head_C</text>
<text x="157.40" y="349.23">head_B</text>
<text x="157.40" y="394.35">head_L_1</text>
<text x="157.40" y="439.48">head_L_2</text>
<text x="157.40" y="484.61">face_H</text>
<text x="157.40" y="529.74">shoulder_B</text>
<text x="157.40" y="574.87">wrist_B</text>
<text x="157.40" y="619.99">weight</text>
<text x="157.40" y="665.12">BMI</text>
<text x="157.40" y="710.25">arm_C</text>
<text x="157.40" y="755.38">hip_B</text>
<text x="157.40" y="800.50">waist_C_relax</text>
<text x="157.40" y="845.63">waist_C_suck</text>
<text x="157.40" y="890.76">biceps_SF</text>
<text x="157.40" y="935.89">triceps_SF</text>
</g>
<g class="x">
<text transform="translate(196.11 970.60) rotate(-45)">total_H</text>
<text transform="translate(240.73 970.60) rotate(-45)">sitting_H</text>
<text transform="translate(285.35 970.60) rotate(-45)">knee_H</text>
<text transform="translate(329.97 970.60) rotate(-45)">buttock_knee_L</text>
<text transform="translate(374.59 970.60) rotate(-45)">foot_L_left</text>
<text transform="translate(419.20 970.60) rotate(-45)">foot_L_right</text>
<text transform="translate(463.82 970.60) rotate(-45)">head_C</text>
<text transform="translate(508.44 970.60) rotate(-45)">head_B</text>
<text transform="translate(553.06 970.60) rotate(-45)">head_L_1</text>
<text transform="translate(597.68 970.60) rotate(-45)">head_L_2</text>
<text transform="translate(642.30 970.60) rotate(-45)">face_H</text>
<text transform="translate(686.92 970.60) rotate(-45)">shoulder_B</text>
<text transform="translate(731.54 970.60) rotate(-45)">wrist_B</text>
<text transform="translate(776.16 970.60) rotate(-45)">weight</text>
<text transform="translate(820.78 970.60) rotate(-45)" fill="#4D4D4D" stroke="#4D4D4D">BMI</text>
<text transform="translate(865.40 970.60) rotate(-45)">arm_C</text>
<text transform="translate(910.01 970.60) rotate(-45)">hip_B</text>
<text transform="translate(954.63 970.60) rotate(-45)">waist_C_relax</text>
<text transform="translate(999.25 970.60) rotate(-45)">waist_C_suck</text>
<text transform="translate(1043.87 970.60) rotate(-45)">biceps_SF</text>
<text transform="translate(1088.49 970.60) rotate(-45)">triceps_SF</text>
</g>
<text class="t" text-anchor="middle" letter-spacing="-0.3" x="633.00" y="1088.30">Trait</text>
<text class="t" text-anchor="middle" letter-spacing="-0.3" transform="translate(12.70 478.46) rotate(-90)">Trait</text>
<defs><linearGradient id="lg" x1="0" y1="0" x2="0" y2="1"><stop offset="0.0000" stop-color="#FF0000"/><stop offset="0.0250" stop-color="#FF2913"/><stop offset="0.0500" stop-color="#FF3E22"/><stop offset="0.0750" stop-color="#FF4D2E"/><stop offset="0.1000" stop-color="#FF5B3A"/><stop offset="0.1250" stop-color="#FF6846"/><stop offset="0.1500" stop-color="#FF7352"/><stop offset="0.1750" stop-color="#FF7E5E"/><stop offset="0.2000" stop-color="#FF8969"/><stop offset="0.2250" stop-color="#FF9475"/><stop offset="0.2500" stop-color="#FF9E81"/><stop offset="0.2750" stop-color="#FFA88D"/><stop offset="0.3000" stop-color="#FFB299"/><stop offset="0.3250" stop-color="#FFBCA6"/><stop offset="0.3500" stop-color="#FFC6B2"/><stop offset="0.3750" stop-color="#FFCFBF"/><stop offset="0.4000" stop-color="#FFD9CB"/><stop offset="0.4250" stop-color="#FFE2D8"/><stop offset="0.4500" stop-color="#FFECE5"/><stop offset="0.4750" stop-color="#FFF5F2"/><stop offset="0.5000" stop-color="#FFFFFF"/><stop offset="0.5250" stop-color="#F8F3FF"/><stop offset="0.5500" stop-color="#F2E7FF"/><stop offset="0.5750" stop-color="#EBDCFF"/><stop offset="0.6000" stop-color="#E3D0FF"/><stop offset="0.6250" stop-color="#DCC4FF"/><stop offset="0.6500" stop-color="#D4B9FF"/><stop offset="0.6750" stop-color="#CCADFF"/><stop offset="0.7000" stop-color="#C4A2FF"/><stop offset="0.7250" stop-color="#BC97FF"/><stop offset="0.7500" stop-color="#B38BFF"/><stop offset="0.7750" stop-color="#AA80FF"/><stop offset="0.8000" stop-color="#A074FF"/><stop offset="0.8250" stop-color="#9569FF"/><stop offset="0.8500" stop-color="#8A5DFF"/><stop offset="0.8750" stop-color="#7E52FF"/><stop offset="0.9000" stop-color="#7145FF"/><stop offset="0.9250" stop-color="#6239FF"/><stop offset="0.9500" stop-color="#502BFF"/><stop offset="0.9750" stop-color="#381BFF"/><stop offset="1.0000" stop-color="#0000FF"/></linearGradient></defs>
<rect x="1130.90" y="424.10" width="27.30" height="133.80" fill="url(#lg)"/>
<text class="t" x="1127.3" y="416.0">Corr</text>
<g stroke="#fff" stroke-width="1" fill="none">
<path d="M1130.90 424.70h5.46M1152.74 424.70h5.46"/>
<path d="M1130.90 457.69h5.46M1152.74 457.69h5.46"/>
<path d="M1130.90 490.67h5.46M1152.74 490.67h5.46"/>
<path d="M1130.90 523.66h5.46M1152.74 523.66h5.46"/>
<path d="M1130.90 556.65h5.46M1152.74 556.65h5.46"/>
</g>
<text class="t" x="1165.8" y="431.00">1.0</text>
<text class="t" x="1165.8" y="463.99">0.5</text>
<text class="t" x="1165.8" y="496.97">0.0</text>
<text class="t" letter-spacing="-0.3" x="1165.8" y="528.26">−0.5</text>
<text class="t" letter-spacing="-0.3" x="1165.8" y="560.65">−1.0</text>
</svg>
</body></html>
